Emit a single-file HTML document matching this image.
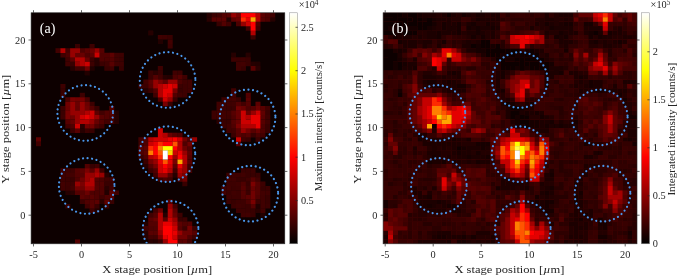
<!DOCTYPE html>
<html><head><meta charset="utf-8"><title>Stage scan intensity maps</title>
<style>html,body{margin:0;padding:0;background:#fff}svg{display:block}text{font-family:"Liberation Serif","DejaVu Serif",serif;font-size:10.3px;fill:#262626}.L{font-size:11.3px}</style>
</head><body>
<svg width="677" height="276" viewBox="0 0 677 276">
<rect width="677" height="276" fill="#fff"/>
<filter id="bl" x="-5%" y="-5%" width="110%" height="110%"><feGaussianBlur stdDeviation="0.5"/></filter>
<clipPath id="c4"><rect x="31.1" y="12.8" width="253.7" height="231.0"/></clipPath>
<g clip-path="url(#c4)"><g filter="url(#bl)"><rect x="27.1" y="8.8" width="261.7" height="239.0" fill="#0e0000"/>
<path fill="#220000" d="M226.3 17.2h5.0v4.6h-5.0zM255.5 61.7h5.0v4.6h-5.0zM114.0 110.6h5.0v4.6h-5.0zM143.3 221.6h5.0v4.6h-5.0z"/>
<path fill="#230000" d="M157.9 39.5h5.0v4.6h-5.0zM89.6 66.1h5.0v4.6h-5.0zM84.8 70.6h5.0v4.6h-5.0zM167.7 75.0h5.0v4.6h-5.0zM104.3 190.5h5.0v4.6h-5.0zM255.5 203.9h5.0v4.6h-5.0zM94.5 208.3h5.0v4.6h-5.0zM260.4 212.7h5.0v4.6h-5.0z"/>
<path fill="#250000" d="M270.2 17.2h5.0v4.6h-5.0zM231.1 52.8h5.0v4.6h-5.0zM245.8 52.8h5.0v4.6h-5.0zM104.3 172.8h5.0v4.6h-5.0zM143.3 230.5h5.0v4.6h-5.0z"/>
<path fill="#260000" d="M94.5 57.2h5.0v4.6h-5.0zM94.5 61.7h5.0v4.6h-5.0zM162.8 75.0h5.0v4.6h-5.0zM143.3 88.3h5.0v4.6h-5.0zM114.0 115.0h5.0v4.6h-5.0zM143.3 163.9h5.0v4.6h-5.0zM65.3 190.5h5.0v4.6h-5.0zM143.3 235.0h5.0v4.6h-5.0zM153.1 239.4h5.0v4.6h-5.0z"/>
<path fill="#270000" d="M206.7 12.8h5.0v4.6h-5.0zM148.2 30.6h5.0v4.6h-5.0zM250.6 61.7h5.0v4.6h-5.0zM70.1 66.1h5.0v4.6h-5.0zM114.0 119.4h5.0v4.6h-5.0zM79.9 128.3h5.0v4.6h-5.0zM172.6 172.8h5.0v4.6h-5.0zM162.8 212.7h5.0v4.6h-5.0z"/>
<path fill="#290000" d="M206.7 17.2h5.0v4.6h-5.0zM255.5 66.1h5.0v4.6h-5.0zM153.1 70.6h5.0v4.6h-5.0zM216.5 119.4h5.0v4.6h-5.0zM79.9 123.9h5.0v4.6h-5.0zM104.3 186.1h5.0v4.6h-5.0zM70.1 190.5h5.0v4.6h-5.0zM99.4 199.4h5.0v4.6h-5.0zM255.5 208.3h5.0v4.6h-5.0zM148.2 239.4h5.0v4.6h-5.0z"/>
<path fill="#380000" d="M216.5 21.7h5.0v4.6h-5.0zM167.7 35.0h5.0v4.6h-5.0zM75.0 43.9h5.0v4.6h-5.0zM245.8 57.2h5.0v4.6h-5.0zM245.8 61.7h5.0v4.6h-5.0zM104.3 66.1h5.0v4.6h-5.0zM118.9 66.1h5.0v4.6h-5.0zM148.2 70.6h5.0v4.6h-5.0zM148.2 75.0h5.0v4.6h-5.0zM60.4 88.3h5.0v4.6h-5.0zM221.4 101.7h5.0v4.6h-5.0zM94.5 106.1h5.0v4.6h-5.0zM265.3 110.6h5.0v4.6h-5.0zM221.4 119.4h5.0v4.6h-5.0zM265.3 123.9h5.0v4.6h-5.0zM265.3 128.3h5.0v4.6h-5.0zM245.8 137.2h5.0v4.6h-5.0zM138.4 155.0h5.0v4.6h-5.0zM89.6 163.9h5.0v4.6h-5.0zM240.9 168.3h5.0v4.6h-5.0zM250.6 172.8h5.0v4.6h-5.0zM70.1 177.2h5.0v4.6h-5.0zM104.3 181.6h9.9v4.6h-9.9zM226.3 190.5h5.0v4.6h-5.0zM109.2 199.4h5.0v4.6h-5.0zM231.1 199.4h5.0v4.6h-5.0zM94.5 203.9h5.0v4.6h-5.0zM104.3 203.9h5.0v4.6h-5.0zM177.5 217.2h5.0v4.6h-5.0zM192.1 226.1h5.0v4.6h-5.0zM157.9 239.4h5.0v4.6h-5.0z"/>
<path fill="#390000" d="M70.1 61.7h5.0v4.6h-5.0zM240.9 66.1h5.0v4.6h-5.0zM157.9 70.6h5.0v4.6h-5.0zM148.2 88.3h5.0v4.6h-5.0zM177.5 88.3h5.0v4.6h-5.0zM172.6 97.2h5.0v4.6h-5.0zM236.0 97.2h5.0v4.6h-5.0zM167.7 101.7h5.0v4.6h-5.0zM226.3 106.1h5.0v4.6h-5.0zM226.3 119.4h5.0v4.6h-5.0zM89.6 128.3h5.0v4.6h-5.0zM250.6 132.8h5.0v4.6h-5.0zM143.3 159.4h5.0v4.6h-5.0zM245.8 168.3h5.0v4.6h-5.0zM245.8 172.8h5.0v4.6h-5.0zM255.5 172.8h5.0v4.6h-5.0zM236.0 177.2h9.9v4.6h-9.9zM182.3 181.6h5.0v4.6h-5.0zM245.8 181.6h5.0v4.6h-5.0zM260.4 186.1h5.0v4.6h-5.0zM265.3 195.0h5.0v4.6h-5.0zM265.3 199.4h5.0v4.6h-5.0zM65.3 203.9h5.0v4.6h-5.0zM250.6 208.3h5.0v4.6h-5.0zM250.6 212.7h5.0v4.6h-5.0z"/>
<path fill="#3a0000" d="M211.6 12.8h5.0v4.6h-5.0zM89.6 57.2h5.0v4.6h-5.0zM118.9 57.2h5.0v4.6h-5.0zM236.0 57.2h5.0v4.6h-5.0zM99.4 61.7h5.0v4.6h-5.0zM138.4 83.9h9.9v4.6h-9.9zM177.5 83.9h5.0v4.6h-5.0zM60.4 92.8h5.0v4.6h-5.0zM221.4 97.2h5.0v4.6h-5.0zM221.4 106.1h5.0v4.6h-5.0zM231.1 106.1h5.0v4.6h-5.0zM60.4 110.6h5.0v4.6h-5.0zM221.4 123.9h5.0v4.6h-5.0zM70.1 128.3h5.0v4.6h-5.0zM84.8 128.3h5.0v4.6h-5.0zM231.1 132.8h5.0v4.6h-5.0zM255.5 137.2h5.0v4.6h-5.0zM65.3 168.3h5.0v4.6h-5.0zM148.2 168.3h5.0v4.6h-5.0zM250.6 168.3h5.0v4.6h-5.0zM226.3 172.8h5.0v4.6h-5.0zM65.3 177.2h5.0v4.6h-5.0zM65.3 186.1h5.0v4.6h-5.0zM231.1 186.1h5.0v4.6h-5.0zM265.3 186.1h5.0v4.6h-5.0zM245.8 190.5h5.0v4.6h-5.0zM79.9 199.4h5.0v4.6h-5.0zM231.1 203.9h5.0v4.6h-5.0zM245.8 203.9h5.0v4.6h-5.0zM265.3 203.9h5.0v4.6h-5.0zM245.8 208.3h5.0v4.6h-5.0zM182.3 217.2h5.0v4.6h-5.0zM182.3 226.1h5.0v4.6h-5.0zM192.1 235.0h5.0v4.6h-5.0z"/>
<path fill="#3c0000" d="M250.6 35.0h5.0v4.6h-5.0zM167.7 43.9h5.0v4.6h-5.0zM118.9 52.8h5.0v4.6h-5.0zM240.9 57.2h5.0v4.6h-5.0zM177.5 70.6h5.0v4.6h-5.0zM60.4 83.9h5.0v4.6h-5.0zM182.3 83.9h5.0v4.6h-5.0zM182.3 88.3h5.0v4.6h-5.0zM182.3 92.8h5.0v4.6h-5.0zM226.3 101.7h5.0v4.6h-5.0zM211.6 110.6h5.0v4.6h-5.0zM60.4 115.0h5.0v4.6h-5.0zM265.3 115.0h5.0v4.6h-5.0zM60.4 168.3h5.0v4.6h-5.0zM231.1 172.8h9.9v4.6h-9.9zM157.9 177.2h5.0v4.6h-5.0zM65.3 181.6h5.0v4.6h-5.0zM226.3 181.6h9.9v4.6h-9.9zM245.8 186.1h5.0v4.6h-5.0zM236.0 190.5h5.0v4.6h-5.0zM226.3 195.0h5.0v4.6h-5.0zM236.0 199.4h5.0v4.6h-5.0zM255.5 199.4h5.0v4.6h-5.0zM240.9 208.3h5.0v4.6h-5.0zM177.5 212.7h5.0v4.6h-5.0z"/>
<path fill="#3d0000" d="M162.8 35.0h5.0v4.6h-5.0zM89.6 43.9h5.0v4.6h-5.0zM231.1 57.2h5.0v4.6h-5.0zM89.6 61.7h5.0v4.6h-5.0zM118.9 61.7h5.0v4.6h-5.0zM157.9 66.1h5.0v4.6h-5.0zM79.9 92.8h5.0v4.6h-5.0zM89.6 101.7h5.0v4.6h-5.0zM60.4 106.1h5.0v4.6h-5.0zM211.6 115.0h5.0v4.6h-5.0zM226.3 115.0h5.0v4.6h-5.0zM187.2 163.9h5.0v4.6h-5.0zM70.1 168.3h5.0v4.6h-5.0zM99.4 168.3h5.0v4.6h-5.0zM60.4 172.8h5.0v4.6h-5.0zM60.4 177.2h5.0v4.6h-5.0zM70.1 181.6h5.0v4.6h-5.0zM260.4 181.6h5.0v4.6h-5.0zM221.4 186.1h5.0v4.6h-5.0zM236.0 186.1h5.0v4.6h-5.0zM114.0 190.5h5.0v4.6h-5.0zM231.1 195.0h9.9v4.6h-9.9zM226.3 199.4h5.0v4.6h-5.0zM240.9 199.4h5.0v4.6h-5.0zM240.9 203.9h5.0v4.6h-5.0zM89.6 208.3h5.0v4.6h-5.0zM236.0 208.3h5.0v4.6h-5.0z"/>
<path fill="#3f0000" d="M216.5 12.8h5.0v4.6h-5.0zM114.0 52.8h5.0v4.6h-5.0zM236.0 66.1h5.0v4.6h-5.0zM157.9 75.0h5.0v4.6h-5.0zM143.3 79.4h5.0v4.6h-5.0zM187.2 79.4h5.0v4.6h-5.0zM187.2 83.9h5.0v4.6h-5.0zM231.1 88.3h5.0v4.6h-5.0zM226.3 97.2h5.0v4.6h-5.0zM216.5 106.1h5.0v4.6h-5.0zM265.3 106.1h5.0v4.6h-5.0zM226.3 110.6h5.0v4.6h-5.0zM226.3 123.9h5.0v4.6h-5.0zM226.3 128.3h5.0v4.6h-5.0zM36.0 141.7h5.0v4.6h-5.0zM138.4 141.7h5.0v4.6h-5.0zM172.6 168.3h5.0v4.6h-5.0zM187.2 168.3h5.0v4.6h-5.0zM153.1 172.8h5.0v4.6h-5.0zM104.3 177.2h5.0v4.6h-5.0zM226.3 177.2h5.0v4.6h-5.0zM236.0 181.6h5.0v4.6h-5.0zM99.4 195.0h5.0v4.6h-5.0zM260.4 195.0h5.0v4.6h-5.0zM260.4 199.4h5.0v4.6h-5.0z"/>
<path fill="#400000" d="M270.2 12.8h5.0v4.6h-5.0zM245.8 26.1h5.0v4.6h-5.0zM255.5 26.1h5.0v4.6h-5.0zM157.9 35.0h5.0v4.6h-5.0zM60.4 52.8h5.0v4.6h-5.0zM65.3 57.2h5.0v4.6h-5.0zM114.0 57.2h5.0v4.6h-5.0zM75.0 66.1h5.0v4.6h-5.0zM109.2 66.1h5.0v4.6h-5.0zM182.3 79.4h5.0v4.6h-5.0zM177.5 92.8h5.0v4.6h-5.0zM231.1 92.8h5.0v4.6h-5.0zM216.5 101.7h5.0v4.6h-5.0zM231.1 101.7h5.0v4.6h-5.0zM240.9 137.2h5.0v4.6h-5.0zM240.9 172.8h5.0v4.6h-5.0zM60.4 186.1h5.0v4.6h-5.0zM231.1 190.5h5.0v4.6h-5.0zM172.6 203.9h5.0v4.6h-5.0zM236.0 203.9h5.0v4.6h-5.0zM153.1 208.3h5.0v4.6h-5.0zM260.4 208.3h5.0v4.6h-5.0zM153.1 235.0h5.0v4.6h-5.0z"/>
<path fill="#410000" d="M226.3 21.7h5.0v4.6h-5.0zM65.3 61.7h5.0v4.6h-5.0zM104.3 61.7h5.0v4.6h-5.0zM114.0 61.7h5.0v4.6h-5.0zM236.0 61.7h5.0v4.6h-5.0zM79.9 66.1h5.0v4.6h-5.0zM172.6 70.6h5.0v4.6h-5.0zM182.3 75.0h5.0v4.6h-5.0zM187.2 88.3h5.0v4.6h-5.0zM153.1 92.8h5.0v4.6h-5.0zM221.4 110.6h5.0v4.6h-5.0zM216.5 115.0h9.9v4.6h-9.9zM265.3 119.4h5.0v4.6h-5.0zM99.4 123.9h5.0v4.6h-5.0zM94.5 163.9h5.0v4.6h-5.0zM167.7 177.2h5.0v4.6h-5.0zM231.1 177.2h5.0v4.6h-5.0zM245.8 177.2h5.0v4.6h-5.0zM109.2 186.1h5.0v4.6h-5.0zM226.3 186.1h5.0v4.6h-5.0zM265.3 190.5h5.0v4.6h-5.0zM84.8 203.9h5.0v4.6h-5.0zM260.4 203.9h5.0v4.6h-5.0zM148.2 212.7h5.0v4.6h-5.0zM240.9 212.7h5.0v4.6h-5.0z"/>
<path fill="#430000" d="M167.7 39.5h5.0v4.6h-5.0zM55.5 48.3h5.0v4.6h-5.0zM65.3 48.3h5.0v4.6h-5.0zM240.9 61.7h5.0v4.6h-5.0zM231.1 97.2h5.0v4.6h-5.0zM240.9 101.7h5.0v4.6h-5.0zM99.4 110.6h5.0v4.6h-5.0zM216.5 110.6h5.0v4.6h-5.0zM104.3 119.4h9.9v4.6h-9.9zM65.3 123.9h5.0v4.6h-5.0zM231.1 128.3h5.0v4.6h-5.0zM260.4 132.8h5.0v4.6h-5.0zM138.4 137.2h5.0v4.6h-5.0zM65.3 172.8h9.9v4.6h-9.9zM109.2 177.2h5.0v4.6h-5.0zM255.5 177.2h5.0v4.6h-5.0zM60.4 181.6h5.0v4.6h-5.0zM70.1 186.1h5.0v4.6h-5.0zM221.4 190.5h5.0v4.6h-5.0zM260.4 190.5h5.0v4.6h-5.0zM245.8 212.7h5.0v4.6h-5.0zM143.3 226.1h5.0v4.6h-5.0zM148.2 235.0h5.0v4.6h-5.0zM187.2 239.4h5.0v4.6h-5.0z"/>
<path fill="#4c0000" d="M236.0 21.7h5.0v4.6h-5.0zM65.3 97.2h5.0v4.6h-5.0zM84.8 97.2h5.0v4.6h-5.0zM255.5 132.8h5.0v4.6h-5.0zM162.8 177.2h5.0v4.6h-5.0z"/>
<path fill="#4e0000" d="M265.3 17.2h5.0v4.6h-5.0zM255.5 21.7h5.0v4.6h-5.0zM79.9 48.3h5.0v4.6h-5.0zM65.3 52.8h5.0v4.6h-5.0zM104.3 57.2h5.0v4.6h-5.0zM172.6 75.0h5.0v4.6h-5.0zM177.5 79.4h5.0v4.6h-5.0zM245.8 106.1h5.0v4.6h-5.0zM109.2 115.0h5.0v4.6h-5.0zM94.5 123.9h5.0v4.6h-5.0zM260.4 123.9h5.0v4.6h-5.0zM177.5 132.8h5.0v4.6h-5.0zM240.9 132.8h5.0v4.6h-5.0zM187.2 137.2h5.0v4.6h-5.0zM138.4 150.5h5.0v4.6h-5.0zM143.3 155.0h5.0v4.6h-5.0zM99.4 177.2h5.0v4.6h-5.0zM94.5 190.5h5.0v4.6h-5.0zM104.3 195.0h5.0v4.6h-5.0zM245.8 199.4h5.0v4.6h-5.0zM148.2 226.1h5.0v4.6h-5.0z"/>
<path fill="#4f0000" d="M84.8 52.8h5.0v4.6h-5.0zM157.9 97.2h5.0v4.6h-5.0zM231.1 115.0h5.0v4.6h-5.0zM70.1 123.9h5.0v4.6h-5.0zM260.4 128.3h5.0v4.6h-5.0zM143.3 137.2h5.0v4.6h-5.0zM143.3 141.7h5.0v4.6h-5.0zM182.3 141.7h5.0v4.6h-5.0zM153.1 168.3h5.0v4.6h-5.0zM75.0 177.2h5.0v4.6h-5.0zM240.9 181.6h5.0v4.6h-5.0zM94.5 195.0h5.0v4.6h-5.0zM255.5 195.0h5.0v4.6h-5.0zM84.8 199.4h5.0v4.6h-5.0zM182.3 221.6h5.0v4.6h-5.0z"/>
<path fill="#500000" d="M265.3 12.8h5.0v4.6h-5.0zM99.4 52.8h9.9v4.6h-9.9zM99.4 57.2h5.0v4.6h-5.0zM109.2 106.1h5.0v4.6h-5.0zM231.1 123.9h5.0v4.6h-5.0zM177.5 177.2h5.0v4.6h-5.0zM99.4 186.1h5.0v4.6h-5.0zM89.6 190.5h5.0v4.6h-5.0zM99.4 190.5h5.0v4.6h-5.0zM153.1 226.1h5.0v4.6h-5.0zM187.2 235.0h5.0v4.6h-5.0z"/>
<path fill="#520000" d="M221.4 12.8h5.0v4.6h-5.0zM221.4 21.7h5.0v4.6h-5.0zM153.1 88.3h5.0v4.6h-5.0zM172.6 92.8h5.0v4.6h-5.0zM245.8 92.8h5.0v4.6h-5.0zM104.3 115.0h5.0v4.6h-5.0zM99.4 119.4h5.0v4.6h-5.0zM148.2 163.9h5.0v4.6h-5.0zM99.4 181.6h5.0v4.6h-5.0zM75.0 190.5h5.0v4.6h-5.0zM240.9 195.0h5.0v4.6h-5.0zM153.1 212.7h5.0v4.6h-5.0zM148.2 221.6h9.9v4.6h-9.9zM192.1 230.5h5.0v4.6h-5.0z"/>
<path fill="#530000" d="M109.2 57.2h5.0v4.6h-5.0zM153.1 75.0h5.0v4.6h-5.0zM250.6 106.1h5.0v4.6h-5.0zM104.3 110.6h5.0v4.6h-5.0zM187.2 146.1h5.0v4.6h-5.0zM187.2 155.0h5.0v4.6h-5.0zM84.8 163.9h5.0v4.6h-5.0zM75.0 172.8h5.0v4.6h-5.0zM94.5 181.6h5.0v4.6h-5.0zM84.8 195.0h5.0v4.6h-5.0zM75.0 239.4h5.0v4.6h-5.0z"/>
<path fill="#540000" d="M226.3 12.8h5.0v4.6h-5.0zM99.4 48.3h5.0v4.6h-5.0zM236.0 101.7h5.0v4.6h-5.0zM109.2 110.6h5.0v4.6h-5.0zM236.0 141.7h5.0v4.6h-5.0zM187.2 159.4h5.0v4.6h-5.0zM75.0 168.3h5.0v4.6h-5.0zM79.9 172.8h5.0v4.6h-5.0zM94.5 177.2h5.0v4.6h-5.0zM255.5 186.1h5.0v4.6h-5.0zM240.9 190.5h5.0v4.6h-5.0zM255.5 190.5h5.0v4.6h-5.0zM187.2 221.6h5.0v4.6h-5.0zM177.5 226.1h5.0v4.6h-5.0z"/>
<path fill="#560000" d="M177.5 75.0h5.0v4.6h-5.0zM148.2 83.9h5.0v4.6h-5.0zM245.8 101.7h5.0v4.6h-5.0zM260.4 119.4h5.0v4.6h-5.0zM138.4 146.1h5.0v4.6h-5.0zM255.5 181.6h5.0v4.6h-5.0zM94.5 186.1h5.0v4.6h-5.0zM240.9 186.1h5.0v4.6h-5.0zM109.2 195.0h5.0v4.6h-5.0zM167.7 199.4h5.0v4.6h-5.0zM250.6 203.9h5.0v4.6h-5.0zM153.1 230.5h5.0v4.6h-5.0z"/>
<path fill="#570000" d="M260.4 17.2h5.0v4.6h-5.0zM89.6 106.1h5.0v4.6h-5.0zM231.1 110.6h5.0v4.6h-5.0zM65.3 119.4h5.0v4.6h-5.0zM231.1 119.4h5.0v4.6h-5.0zM250.6 128.3h5.0v4.6h-5.0zM172.6 132.8h5.0v4.6h-5.0zM245.8 132.8h5.0v4.6h-5.0zM250.6 177.2h5.0v4.6h-5.0zM79.9 190.5h5.0v4.6h-5.0zM89.6 199.4h5.0v4.6h-5.0zM89.6 203.9h5.0v4.6h-5.0z"/>
<path fill="#580000" d="M211.6 17.2h5.0v4.6h-5.0zM109.2 61.7h5.0v4.6h-5.0zM260.4 106.1h5.0v4.6h-5.0zM260.4 115.0h5.0v4.6h-5.0zM75.0 128.3h5.0v4.6h-5.0zM236.0 132.8h5.0v4.6h-5.0zM148.2 217.2h5.0v4.6h-5.0zM162.8 217.2h5.0v4.6h-5.0zM148.2 230.5h5.0v4.6h-5.0zM177.5 239.4h5.0v4.6h-5.0z"/>
<path fill="#5a0000" d="M216.5 17.2h5.0v4.6h-5.0zM250.6 66.1h5.0v4.6h-5.0zM162.8 79.4h5.0v4.6h-5.0zM99.4 115.0h5.0v4.6h-5.0zM236.0 128.3h5.0v4.6h-5.0zM172.6 163.9h5.0v4.6h-5.0zM167.7 172.8h5.0v4.6h-5.0zM109.2 190.5h5.0v4.6h-5.0zM89.6 195.0h5.0v4.6h-5.0z"/>
<path fill="#5b0000" d="M231.1 17.2h5.0v4.6h-5.0zM245.8 97.2h5.0v4.6h-5.0zM255.5 101.7h5.0v4.6h-5.0zM143.3 146.1h5.0v4.6h-5.0zM79.9 168.3h5.0v4.6h-5.0zM89.6 168.3h5.0v4.6h-5.0zM245.8 195.0h5.0v4.6h-5.0zM172.6 208.3h5.0v4.6h-5.0z"/>
<path fill="#5c0000" d="M260.4 12.8h5.0v4.6h-5.0zM221.4 17.2h5.0v4.6h-5.0zM84.8 48.3h5.0v4.6h-5.0zM89.6 52.8h5.0v4.6h-5.0zM109.2 52.8h5.0v4.6h-5.0zM70.1 57.2h5.0v4.6h-5.0zM148.2 79.4h5.0v4.6h-5.0zM94.5 110.6h5.0v4.6h-5.0zM143.3 150.5h5.0v4.6h-5.0zM187.2 150.5h5.0v4.6h-5.0zM79.9 195.0h5.0v4.6h-5.0zM94.5 199.4h5.0v4.6h-5.0zM104.3 199.4h5.0v4.6h-5.0zM177.5 221.6h5.0v4.6h-5.0zM182.3 239.4h5.0v4.6h-5.0z"/>
<path fill="#5e0000" d="M260.4 110.6h5.0v4.6h-5.0zM36.0 137.2h5.0v4.6h-5.0z"/>
<path fill="#660000" d="M75.0 52.8h5.0v4.6h-5.0zM75.0 106.1h5.0v4.6h-5.0zM245.8 110.6h5.0v4.6h-5.0zM70.1 119.4h5.0v4.6h-5.0zM94.5 119.4h5.0v4.6h-5.0z"/>
<path fill="#670000" d="M79.9 52.8h5.0v4.6h-5.0zM236.0 119.4h5.0v4.6h-5.0zM250.6 186.1h5.0v4.6h-5.0zM172.6 212.7h5.0v4.6h-5.0zM153.1 217.2h5.0v4.6h-5.0z"/>
<path fill="#690000" d="M75.0 101.7h5.0v4.6h-5.0zM255.5 128.3h5.0v4.6h-5.0z"/>
<path fill="#6a0000" d="M84.8 57.2h5.0v4.6h-5.0zM240.9 106.1h5.0v4.6h-5.0zM236.0 115.0h5.0v4.6h-5.0zM182.3 146.1h5.0v4.6h-5.0zM182.3 230.5h9.9v4.6h-9.9z"/>
<path fill="#6b0000" d="M236.0 17.2h5.0v4.6h-5.0zM89.6 48.3h5.0v4.6h-5.0zM84.8 101.7h5.0v4.6h-5.0zM236.0 110.6h5.0v4.6h-5.0zM167.7 132.8h5.0v4.6h-5.0zM84.8 190.5h5.0v4.6h-5.0z"/>
<path fill="#6d0000" d="M65.3 106.1h5.0v4.6h-5.0zM255.5 106.1h5.0v4.6h-5.0zM79.9 177.2h5.0v4.6h-5.0zM182.3 177.2h5.0v4.6h-5.0z"/>
<path fill="#6e0000" d="M84.8 66.1h5.0v4.6h-5.0zM182.3 137.2h5.0v4.6h-5.0zM79.9 186.1h5.0v4.6h-5.0zM157.9 208.3h5.0v4.6h-5.0z"/>
<path fill="#700000" d="M84.8 106.1h5.0v4.6h-5.0zM70.1 115.0h5.0v4.6h-5.0zM75.0 186.1h5.0v4.6h-5.0zM250.6 190.5h5.0v4.6h-5.0zM250.6 195.0h5.0v4.6h-5.0zM177.5 235.0h9.9v4.6h-9.9z"/>
<path fill="#710000" d="M65.3 101.7h5.0v4.6h-5.0zM187.2 141.7h5.0v4.6h-5.0z"/>
<path fill="#720000" d="M75.0 97.2h5.0v4.6h-5.0zM84.8 123.9h5.0v4.6h-5.0zM245.8 128.3h5.0v4.6h-5.0z"/>
<path fill="#740000" d="M236.0 12.8h5.0v4.6h-5.0zM79.9 97.2h5.0v4.6h-5.0zM148.2 159.4h5.0v4.6h-5.0zM153.1 163.9h5.0v4.6h-5.0zM157.9 235.0h5.0v4.6h-5.0z"/>
<path fill="#750000" d="M172.6 88.3h5.0v4.6h-5.0zM89.6 123.9h5.0v4.6h-5.0zM187.2 226.1h5.0v4.6h-5.0z"/>
<path fill="#760000" d="M236.0 106.1h5.0v4.6h-5.0z"/>
<path fill="#780000" d="M157.9 79.4h5.0v4.6h-5.0zM162.8 101.7h5.0v4.6h-5.0z"/>
<path fill="#790000" d="M70.1 97.2h5.0v4.6h-5.0zM65.3 110.6h5.0v4.6h-5.0zM172.6 159.4h5.0v4.6h-5.0zM84.8 168.3h5.0v4.6h-5.0zM182.3 172.8h5.0v4.6h-5.0zM250.6 199.4h5.0v4.6h-5.0z"/>
<path fill="#7a0000" d="M65.3 115.0h5.0v4.6h-5.0zM236.0 123.9h5.0v4.6h-5.0zM79.9 181.6h5.0v4.6h-5.0z"/>
<path fill="#7c0000" d="M250.6 181.6h5.0v4.6h-5.0z"/>
<path fill="#960000" d="M231.1 12.8h5.0v4.6h-5.0zM240.9 21.7h5.0v4.6h-5.0zM70.1 48.3h9.9v4.6h-9.9zM94.5 48.3h5.0v4.6h-5.0zM70.1 52.8h5.0v4.6h-5.0zM75.0 61.7h5.0v4.6h-5.0zM153.1 79.4h5.0v4.6h-5.0zM167.7 79.4h9.9v4.6h-9.9zM153.1 83.9h5.0v4.6h-5.0zM167.7 97.2h5.0v4.6h-5.0zM70.1 101.7h5.0v4.6h-5.0zM79.9 101.7h5.0v4.6h-5.0zM70.1 106.1h5.0v4.6h-5.0zM79.9 106.1h5.0v4.6h-5.0zM70.1 110.6h14.8v4.6h-14.8zM250.6 110.6h5.0v4.6h-5.0zM75.0 115.0h5.0v4.6h-5.0zM94.5 115.0h5.0v4.6h-5.0zM75.0 119.4h5.0v4.6h-5.0zM89.6 119.4h5.0v4.6h-5.0zM240.9 128.3h5.0v4.6h-5.0zM192.1 137.2h5.0v4.6h-5.0zM182.3 150.5h5.0v4.6h-5.0zM172.6 155.0h5.0v4.6h-5.0zM153.1 159.4h5.0v4.6h-5.0zM182.3 163.9h5.0v4.6h-5.0zM94.5 168.3h5.0v4.6h-5.0zM182.3 168.3h5.0v4.6h-5.0zM84.8 172.8h9.9v4.6h-9.9zM99.4 172.8h5.0v4.6h-5.0zM157.9 172.8h9.9v4.6h-9.9zM177.5 172.8h5.0v4.6h-5.0zM84.8 177.2h5.0v4.6h-5.0zM75.0 181.6h5.0v4.6h-5.0zM84.8 186.1h9.9v4.6h-9.9zM167.7 203.9h5.0v4.6h-5.0zM172.6 217.2h5.0v4.6h-5.0zM157.9 230.5h5.0v4.6h-5.0zM177.5 230.5h5.0v4.6h-5.0zM162.8 239.4h5.0v4.6h-5.0z"/>
<path fill="#b10000" d="M255.5 12.8h5.0v4.6h-5.0zM255.5 17.2h5.0v4.6h-5.0zM250.6 30.6h5.0v4.6h-5.0zM60.4 48.3h5.0v4.6h-5.0zM75.0 57.2h9.9v4.6h-9.9zM79.9 61.7h5.0v4.6h-5.0zM157.9 83.9h5.0v4.6h-5.0zM157.9 88.3h5.0v4.6h-5.0zM157.9 92.8h5.0v4.6h-5.0zM84.8 110.6h5.0v4.6h-5.0zM245.8 115.0h5.0v4.6h-5.0zM79.9 119.4h9.9v4.6h-9.9zM240.9 123.9h14.8v4.6h-14.8zM162.8 132.8h5.0v4.6h-5.0zM148.2 137.2h5.0v4.6h-5.0zM177.5 141.7h5.0v4.6h-5.0zM177.5 146.1h5.0v4.6h-5.0zM148.2 155.0h5.0v4.6h-5.0zM182.3 155.0h5.0v4.6h-5.0zM182.3 159.4h5.0v4.6h-5.0zM167.7 168.3h5.0v4.6h-5.0zM177.5 168.3h5.0v4.6h-5.0zM94.5 172.8h5.0v4.6h-5.0zM89.6 177.2h5.0v4.6h-5.0zM84.8 181.6h9.9v4.6h-9.9zM167.7 208.3h5.0v4.6h-5.0zM157.9 212.7h5.0v4.6h-5.0zM167.7 212.7h5.0v4.6h-5.0zM157.9 217.2h5.0v4.6h-5.0zM157.9 221.6h5.0v4.6h-5.0zM172.6 221.6h5.0v4.6h-5.0zM157.9 226.1h5.0v4.6h-5.0z"/>
<path fill="#cc0000" d="M245.8 21.7h5.0v4.6h-5.0zM94.5 52.8h5.0v4.6h-5.0zM84.8 61.7h5.0v4.6h-5.0zM162.8 83.9h5.0v4.6h-5.0zM172.6 83.9h5.0v4.6h-5.0zM167.7 92.8h5.0v4.6h-5.0zM162.8 97.2h5.0v4.6h-5.0zM89.6 110.6h5.0v4.6h-5.0zM240.9 110.6h5.0v4.6h-5.0zM255.5 110.6h5.0v4.6h-5.0zM79.9 115.0h5.0v4.6h-5.0zM89.6 115.0h5.0v4.6h-5.0zM240.9 115.0h5.0v4.6h-5.0zM240.9 119.4h9.9v4.6h-9.9zM75.0 123.9h5.0v4.6h-5.0zM157.9 128.3h5.0v4.6h-5.0zM157.9 132.8h5.0v4.6h-5.0zM153.1 137.2h14.8v4.6h-14.8zM177.5 137.2h5.0v4.6h-5.0zM236.0 137.2h5.0v4.6h-5.0zM148.2 141.7h5.0v4.6h-5.0zM172.6 150.5h5.0v4.6h-5.0zM153.1 155.0h5.0v4.6h-5.0zM157.9 163.9h5.0v4.6h-5.0zM167.7 163.9h5.0v4.6h-5.0zM157.9 168.3h5.0v4.6h-5.0zM167.7 217.2h5.0v4.6h-5.0zM172.6 226.1h5.0v4.6h-5.0zM172.6 235.0h5.0v4.6h-5.0z"/>
<path fill="#e70000" d="M245.8 17.2h5.0v4.6h-5.0zM167.7 83.9h5.0v4.6h-5.0zM162.8 88.3h9.9v4.6h-9.9zM162.8 92.8h5.0v4.6h-5.0zM84.8 115.0h5.0v4.6h-5.0zM250.6 115.0h9.9v4.6h-9.9zM250.6 119.4h9.9v4.6h-9.9zM255.5 123.9h5.0v4.6h-5.0zM167.7 137.2h5.0v4.6h-5.0zM153.1 141.7h5.0v4.6h-5.0zM177.5 150.5h5.0v4.6h-5.0zM157.9 159.4h5.0v4.6h-5.0zM167.7 159.4h5.0v4.6h-5.0zM177.5 163.9h5.0v4.6h-5.0zM162.8 168.3h5.0v4.6h-5.0zM162.8 221.6h9.9v4.6h-9.9zM172.6 230.5h5.0v4.6h-5.0zM162.8 235.0h5.0v4.6h-5.0z"/>
<path fill="#ff0100" d="M240.9 12.8h14.8v4.6h-14.8zM250.6 21.7h5.0v4.6h-5.0zM250.6 26.1h5.0v4.6h-5.0zM172.6 137.2h5.0v4.6h-5.0zM162.8 141.7h9.9v4.6h-9.9zM153.1 146.1h5.0v4.6h-5.0zM172.6 146.1h5.0v4.6h-5.0zM153.1 150.5h5.0v4.6h-5.0zM167.7 155.0h5.0v4.6h-5.0zM177.5 155.0h5.0v4.6h-5.0zM162.8 163.9h5.0v4.6h-5.0zM162.8 226.1h9.9v4.6h-9.9zM162.8 230.5h9.9v4.6h-9.9zM167.7 235.0h5.0v4.6h-5.0zM167.7 239.4h9.9v4.6h-9.9z"/>
<path fill="#ff2c00" d="M240.9 17.2h5.0v4.6h-5.0zM157.9 141.7h5.0v4.6h-5.0zM148.2 146.1h5.0v4.6h-5.0zM157.9 155.0h5.0v4.6h-5.0z"/>
<path fill="#ff5500" d="M172.6 141.7h5.0v4.6h-5.0zM157.9 150.5h5.0v4.6h-5.0zM162.8 159.4h5.0v4.6h-5.0z"/>
<path fill="#ff7e00" d="M157.9 146.1h5.0v4.6h-5.0zM148.2 150.5h5.0v4.6h-5.0z"/>
<path fill="#ffa700" d="M250.6 17.2h5.0v4.6h-5.0zM177.5 159.4h5.0v4.6h-5.0z"/>
<path fill="#ffcf00" d="M167.7 150.5h5.0v4.6h-5.0z"/>
<path fill="#ffff00" d="M162.8 146.1h9.9v4.6h-9.9z"/>
<path fill="#ffffff" d="M162.8 150.5h5.0v4.6h-5.0zM162.8 155.0h5.0v4.6h-5.0z"/></g></g>
<g clip-path="url(#c4)"><g fill="none" stroke="#4a96ea" stroke-width="2.2" stroke-linecap="round" stroke-dasharray="0.01 4.53"><circle cx="85.2" cy="113.0" r="27.8"/><circle cx="167.6" cy="80.0" r="27.8"/><circle cx="167.4" cy="154.2" r="27.8"/><circle cx="247.6" cy="117.4" r="27.8"/><circle cx="86.7" cy="186.0" r="27.8"/><circle cx="250.3" cy="193.7" r="27.8"/><circle cx="170.6" cy="229.0" r="27.8"/></g></g>
<rect x="31.1" y="12.8" width="253.7" height="231.0" fill="none" stroke="#262626" stroke-width="0.6"/>
<path d="M33.5 243.85v2.6M33.5 12.8v-2.6M81.5 243.85v2.6M81.5 12.8v-2.6M129.5 243.85v2.6M129.5 12.8v-2.6M177.5 243.85v2.6M177.5 12.8v-2.6M225.5 243.85v2.6M225.5 12.8v-2.6M273.5 243.85v2.6M273.5 12.8v-2.6M31.1 215.2h-2.6M284.8 215.2h2.6M31.1 171.4h-2.6M284.8 171.4h2.6M31.1 127.6h-2.6M284.8 127.6h2.6M31.1 83.8h-2.6M284.8 83.8h2.6M31.1 40.0h-2.6M284.8 40.0h2.6" stroke="#262626" stroke-width="0.7" fill="none"/>
<text x="33.5" y="258.3" text-anchor="middle">-5</text>
<text x="81.5" y="258.3" text-anchor="middle">0</text>
<text x="129.5" y="258.3" text-anchor="middle">5</text>
<text x="177.5" y="258.3" text-anchor="middle">10</text>
<text x="225.5" y="258.3" text-anchor="middle">15</text>
<text x="273.5" y="258.3" text-anchor="middle">20</text>
<text x="25.3" y="218.7" text-anchor="end">0</text>
<text x="25.3" y="174.9" text-anchor="end">5</text>
<text x="25.3" y="131.1" text-anchor="end">10</text>
<text x="25.3" y="87.3" text-anchor="end">15</text>
<text x="25.3" y="43.5" text-anchor="end">20</text>
<text class="L" x="102.3" y="272.6" textLength="110" lengthAdjust="spacingAndGlyphs">X stage position [<tspan font-style="italic">µ</tspan>m]</text>
<text class="L" transform="translate(9.0 183.7) rotate(-90)" textLength="109" lengthAdjust="spacingAndGlyphs">Y stage position [<tspan font-style="italic">µ</tspan>m]</text>
<text x="39.8" y="33" style="fill:#fff;font-size:14px">(a)</text>
<linearGradient id="g4" x1="0" y1="1" x2="0" y2="0"><stop offset="0.0000" stop-color="#000000"/><stop offset="0.3750" stop-color="#ff0000"/><stop offset="0.7500" stop-color="#ffff00"/><stop offset="1.0000" stop-color="#ffffff"/></linearGradient>
<rect x="289.7" y="12.8" width="8.0" height="231.0" fill="url(#g4)" stroke="#8a8a8a" stroke-width="0.5"/>
<text x="300.9" y="204.0">0.5</text>
<text x="300.9" y="160.7">1</text>
<text x="300.9" y="117.4">1.5</text>
<text x="300.9" y="74.1">2</text>
<text x="300.9" y="30.7">2.5</text>
<path d="M297.7 200.6h-2.2M297.7 157.2h-2.2M297.7 114.0h-2.2M297.7 70.7h-2.2M297.7 27.3h-2.2" stroke="#262626" stroke-width="0.7" fill="none"/>
<text x="298.7" y="8.3">×10<tspan dy="-3.8" style="font-size:7.2px">4</tspan></text>
<text class="L" transform="translate(322.4 191.2) rotate(-90)" textLength="130" lengthAdjust="spacingAndGlyphs">Maximum intensity [counts/s]</text>
<clipPath id="c5"><rect x="383.1" y="12.8" width="253.9" height="231.0"/></clipPath>
<g clip-path="url(#c5)"><g filter="url(#bl)"><rect x="379.1" y="8.8" width="261.9" height="239.0" fill="#620000"/>
<path fill="#0c0000" d="M383.1 12.8h5.0v4.6h-5.0zM446.6 12.8h5.0v4.6h-5.0zM397.7 17.2h9.9v4.6h-9.9zM402.6 21.7h5.0v4.6h-5.0zM417.3 21.7h5.0v4.6h-5.0zM402.6 26.1h5.0v4.6h-5.0zM388.0 30.6h5.0v4.6h-5.0zM412.4 30.6h5.0v4.6h-5.0zM593.1 30.6h5.0v4.6h-5.0zM480.8 39.5h5.0v4.6h-5.0zM485.6 48.3h5.0v4.6h-5.0zM529.6 48.3h5.0v4.6h-5.0zM383.1 52.8h5.0v4.6h-5.0zM392.9 52.8h5.0v4.6h-5.0zM505.2 52.8h5.0v4.6h-5.0zM519.8 52.8h5.0v4.6h-5.0zM392.9 57.2h5.0v4.6h-5.0zM495.4 57.2h9.9v4.6h-9.9zM514.9 57.2h5.0v4.6h-5.0zM524.7 57.2h14.8v4.6h-14.8zM500.3 61.7h14.8v4.6h-14.8zM544.2 61.7h5.0v4.6h-5.0zM397.7 66.1h5.0v4.6h-5.0zM519.8 66.1h5.0v4.6h-5.0zM534.5 66.1h5.0v4.6h-5.0zM544.2 66.1h5.0v4.6h-5.0zM397.7 92.8h5.0v4.6h-5.0zM519.8 106.1h5.0v4.6h-5.0zM519.8 119.4h9.9v4.6h-9.9z"/>
<path fill="#0e0000" d="M397.7 26.1h5.0v4.6h-5.0zM480.8 43.9h5.0v4.6h-5.0zM495.4 43.9h5.0v4.6h-5.0zM490.5 48.3h14.8v4.6h-14.8zM510.1 48.3h5.0v4.6h-5.0zM388.0 52.8h5.0v4.6h-5.0zM534.5 52.8h5.0v4.6h-5.0zM388.0 57.2h5.0v4.6h-5.0zM539.3 57.2h5.0v4.6h-5.0zM388.0 61.7h5.0v4.6h-5.0zM524.7 61.7h5.0v4.6h-5.0zM388.0 66.1h5.0v4.6h-5.0zM505.2 66.1h5.0v4.6h-5.0zM514.9 106.1h5.0v4.6h-5.0zM519.8 115.0h5.0v4.6h-5.0z"/>
<path fill="#0f0000" d="M392.9 12.8h5.0v4.6h-5.0zM407.5 12.8h9.9v4.6h-9.9zM388.0 17.2h9.9v4.6h-9.9zM412.4 17.2h5.0v4.6h-5.0zM383.1 21.7h5.0v4.6h-5.0zM407.5 21.7h9.9v4.6h-9.9zM422.2 21.7h5.0v4.6h-5.0zM383.1 26.1h5.0v4.6h-5.0zM417.3 26.1h5.0v4.6h-5.0zM402.6 30.6h9.9v4.6h-9.9zM471.0 43.9h5.0v4.6h-5.0zM383.1 48.3h9.9v4.6h-9.9zM505.2 48.3h5.0v4.6h-5.0zM514.9 48.3h5.0v4.6h-5.0zM485.6 52.8h5.0v4.6h-5.0zM495.4 52.8h5.0v4.6h-5.0zM524.7 52.8h5.0v4.6h-5.0zM397.7 61.7h5.0v4.6h-5.0zM514.9 61.7h5.0v4.6h-5.0zM529.6 61.7h9.9v4.6h-9.9zM510.1 66.1h5.0v4.6h-5.0zM529.6 66.1h5.0v4.6h-5.0zM505.2 101.7h5.0v4.6h-5.0zM510.1 110.6h5.0v4.6h-5.0zM510.1 115.0h5.0v4.6h-5.0zM524.7 123.9h5.0v4.6h-5.0zM456.3 146.1h5.0v4.6h-5.0z"/>
<path fill="#100000" d="M388.0 12.8h5.0v4.6h-5.0zM397.7 12.8h5.0v4.6h-5.0zM383.1 17.2h5.0v4.6h-5.0zM407.5 17.2h5.0v4.6h-5.0zM417.3 17.2h5.0v4.6h-5.0zM427.0 17.2h5.0v4.6h-5.0zM388.0 21.7h5.0v4.6h-5.0zM397.7 21.7h5.0v4.6h-5.0zM427.0 21.7h5.0v4.6h-5.0zM422.2 26.1h5.0v4.6h-5.0zM383.1 30.6h5.0v4.6h-5.0zM485.6 39.5h5.0v4.6h-5.0zM485.6 43.9h5.0v4.6h-5.0zM490.5 52.8h5.0v4.6h-5.0zM510.1 52.8h5.0v4.6h-5.0zM529.6 52.8h5.0v4.6h-5.0zM383.1 57.2h5.0v4.6h-5.0zM519.8 57.2h5.0v4.6h-5.0zM383.1 61.7h5.0v4.6h-5.0zM519.8 61.7h5.0v4.6h-5.0zM383.1 66.1h5.0v4.6h-5.0zM500.3 66.1h5.0v4.6h-5.0zM539.3 66.1h5.0v4.6h-5.0zM510.1 106.1h5.0v4.6h-5.0zM514.9 110.6h5.0v4.6h-5.0zM524.7 115.0h5.0v4.6h-5.0z"/>
<path fill="#120000" d="M402.6 12.8h5.0v4.6h-5.0zM422.2 17.2h5.0v4.6h-5.0zM392.9 21.7h5.0v4.6h-5.0zM431.9 21.7h5.0v4.6h-5.0zM388.0 26.1h9.9v4.6h-9.9zM407.5 26.1h9.9v4.6h-9.9zM427.0 26.1h5.0v4.6h-5.0zM392.9 30.6h9.9v4.6h-9.9zM588.2 30.6h5.0v4.6h-5.0zM475.9 43.9h5.0v4.6h-5.0zM490.5 43.9h5.0v4.6h-5.0zM475.9 48.3h9.9v4.6h-9.9zM524.7 48.3h5.0v4.6h-5.0zM500.3 52.8h5.0v4.6h-5.0zM514.9 52.8h5.0v4.6h-5.0zM397.7 57.2h5.0v4.6h-5.0zM505.2 57.2h9.9v4.6h-9.9zM392.9 61.7h5.0v4.6h-5.0zM539.3 61.7h5.0v4.6h-5.0zM392.9 66.1h5.0v4.6h-5.0zM514.9 66.1h5.0v4.6h-5.0zM524.7 66.1h5.0v4.6h-5.0zM514.9 115.0h5.0v4.6h-5.0zM514.9 119.4h5.0v4.6h-5.0zM529.6 119.4h5.0v4.6h-5.0zM431.9 123.9h5.0v4.6h-5.0zM529.6 123.9h5.0v4.6h-5.0z"/>
<path fill="#160000" d="M588.2 21.7h5.0v4.6h-5.0zM588.2 35.0h5.0v4.6h-5.0zM451.5 70.6h5.0v4.6h-5.0zM534.5 123.9h5.0v4.6h-5.0zM431.9 155.0h5.0v4.6h-5.0zM427.0 159.4h5.0v4.6h-5.0zM427.0 195.0h5.0v4.6h-5.0zM446.6 203.9h5.0v4.6h-5.0zM544.2 208.3h9.9v4.6h-9.9zM578.4 217.2h5.0v4.6h-5.0z"/>
<path fill="#170000" d="M417.3 12.8h5.0v4.6h-5.0zM475.9 12.8h5.0v4.6h-5.0zM431.9 17.2h5.0v4.6h-5.0zM485.6 21.7h5.0v4.6h-5.0zM568.6 21.7h5.0v4.6h-5.0zM583.3 21.7h5.0v4.6h-5.0zM441.7 26.1h5.0v4.6h-5.0zM456.3 26.1h5.0v4.6h-5.0zM466.1 26.1h5.0v4.6h-5.0zM475.9 26.1h5.0v4.6h-5.0zM549.1 26.1h5.0v4.6h-5.0zM456.3 30.6h5.0v4.6h-5.0zM475.9 30.6h5.0v4.6h-5.0zM558.9 30.6h5.0v4.6h-5.0zM607.7 30.6h5.0v4.6h-5.0zM392.9 35.0h5.0v4.6h-5.0zM436.8 35.0h5.0v4.6h-5.0zM554.0 35.0h5.0v4.6h-5.0zM563.8 35.0h5.0v4.6h-5.0zM597.9 35.0h5.0v4.6h-5.0zM397.7 39.5h5.0v4.6h-5.0zM593.1 39.5h5.0v4.6h-5.0zM397.7 48.3h5.0v4.6h-5.0zM549.1 61.7h5.0v4.6h-5.0zM500.3 70.6h5.0v4.6h-5.0zM544.2 70.6h5.0v4.6h-5.0zM558.9 70.6h5.0v4.6h-5.0zM500.3 75.0h5.0v4.6h-5.0zM431.9 79.4h5.0v4.6h-5.0zM446.6 79.4h5.0v4.6h-5.0zM436.8 83.9h5.0v4.6h-5.0zM456.3 83.9h9.9v4.6h-9.9zM617.5 92.8h5.0v4.6h-5.0zM534.5 110.6h5.0v4.6h-5.0zM534.5 119.4h5.0v4.6h-5.0zM573.5 119.4h5.0v4.6h-5.0zM544.2 123.9h5.0v4.6h-5.0zM417.3 137.2h5.0v4.6h-5.0zM480.8 141.7h5.0v4.6h-5.0zM583.3 141.7h5.0v4.6h-5.0zM632.1 141.7h5.0v4.6h-5.0zM480.8 146.1h5.0v4.6h-5.0zM456.3 150.5h5.0v4.6h-5.0zM466.1 155.0h5.0v4.6h-5.0zM549.1 172.8h5.0v4.6h-5.0zM495.4 186.1h5.0v4.6h-5.0zM524.7 186.1h5.0v4.6h-5.0zM549.1 186.1h5.0v4.6h-5.0zM544.2 190.5h5.0v4.6h-5.0zM578.4 190.5h5.0v4.6h-5.0zM573.5 195.0h5.0v4.6h-5.0zM383.1 199.4h5.0v4.6h-5.0zM534.5 199.4h5.0v4.6h-5.0zM544.2 199.4h5.0v4.6h-5.0zM573.5 199.4h5.0v4.6h-5.0zM383.1 203.9h5.0v4.6h-5.0zM427.0 203.9h5.0v4.6h-5.0zM451.5 203.9h5.0v4.6h-5.0zM544.2 203.9h5.0v4.6h-5.0zM451.5 208.3h5.0v4.6h-5.0zM597.9 221.6h5.0v4.6h-5.0zM441.7 235.0h5.0v4.6h-5.0zM461.2 235.0h5.0v4.6h-5.0zM471.0 235.0h5.0v4.6h-5.0zM597.9 235.0h9.9v4.6h-9.9zM456.3 239.4h5.0v4.6h-5.0z"/>
<path fill="#180000" d="M461.2 12.8h5.0v4.6h-5.0zM475.9 17.2h5.0v4.6h-5.0zM441.7 21.7h5.0v4.6h-5.0zM456.3 21.7h5.0v4.6h-5.0zM471.0 21.7h5.0v4.6h-5.0zM544.2 21.7h5.0v4.6h-5.0zM563.8 21.7h5.0v4.6h-5.0zM490.5 26.1h5.0v4.6h-5.0zM436.8 30.6h5.0v4.6h-5.0zM471.0 35.0h5.0v4.6h-5.0zM480.8 35.0h5.0v4.6h-5.0zM441.7 39.5h5.0v4.6h-5.0zM617.5 39.5h5.0v4.6h-5.0zM534.5 48.3h5.0v4.6h-5.0zM563.8 48.3h5.0v4.6h-5.0zM402.6 61.7h5.0v4.6h-5.0zM412.4 66.1h5.0v4.6h-5.0zM578.4 75.0h5.0v4.6h-5.0zM427.0 79.4h5.0v4.6h-5.0zM588.2 79.4h5.0v4.6h-5.0zM544.2 83.9h5.0v4.6h-5.0zM588.2 83.9h5.0v4.6h-5.0zM397.7 88.3h5.0v4.6h-5.0zM500.3 88.3h5.0v4.6h-5.0zM597.9 88.3h5.0v4.6h-5.0zM622.4 97.2h5.0v4.6h-5.0zM510.1 101.7h5.0v4.6h-5.0zM529.6 101.7h5.0v4.6h-5.0zM524.7 110.6h5.0v4.6h-5.0zM539.3 115.0h5.0v4.6h-5.0zM627.2 115.0h9.9v4.6h-9.9zM549.1 119.4h5.0v4.6h-5.0zM514.9 123.9h9.9v4.6h-9.9zM558.9 123.9h5.0v4.6h-5.0zM417.3 132.8h5.0v4.6h-5.0zM451.5 137.2h5.0v4.6h-5.0zM466.1 137.2h5.0v4.6h-5.0zM627.2 137.2h5.0v4.6h-5.0zM475.9 141.7h5.0v4.6h-5.0zM485.6 141.7h5.0v4.6h-5.0zM461.2 146.1h5.0v4.6h-5.0zM475.9 150.5h5.0v4.6h-5.0zM485.6 155.0h5.0v4.6h-5.0zM441.7 159.4h5.0v4.6h-5.0zM451.5 159.4h5.0v4.6h-5.0zM475.9 159.4h5.0v4.6h-5.0zM534.5 195.0h5.0v4.6h-5.0zM436.8 199.4h5.0v4.6h-5.0zM549.1 199.4h5.0v4.6h-5.0zM417.3 203.9h5.0v4.6h-5.0zM583.3 212.7h5.0v4.6h-5.0zM597.9 217.2h5.0v4.6h-5.0zM602.8 221.6h5.0v4.6h-5.0zM602.8 226.1h5.0v4.6h-5.0zM627.2 230.5h5.0v4.6h-5.0zM436.8 235.0h5.0v4.6h-5.0zM446.6 239.4h5.0v4.6h-5.0zM461.2 239.4h5.0v4.6h-5.0z"/>
<path fill="#1a0000" d="M422.2 12.8h5.0v4.6h-5.0zM451.5 12.8h5.0v4.6h-5.0zM490.5 12.8h5.0v4.6h-5.0zM563.8 12.8h5.0v4.6h-5.0zM436.8 17.2h5.0v4.6h-5.0zM446.6 17.2h5.0v4.6h-5.0zM480.8 17.2h5.0v4.6h-5.0zM446.6 21.7h5.0v4.6h-5.0zM446.6 26.1h9.9v4.6h-9.9zM558.9 26.1h5.0v4.6h-5.0zM568.6 26.1h5.0v4.6h-5.0zM441.7 30.6h9.9v4.6h-9.9zM568.6 30.6h5.0v4.6h-5.0zM417.3 35.0h5.0v4.6h-5.0zM431.9 35.0h5.0v4.6h-5.0zM402.6 39.5h5.0v4.6h-5.0zM422.2 39.5h5.0v4.6h-5.0zM466.1 39.5h5.0v4.6h-5.0zM563.8 39.5h5.0v4.6h-5.0zM602.8 39.5h5.0v4.6h-5.0zM422.2 43.9h5.0v4.6h-5.0zM436.8 43.9h5.0v4.6h-5.0zM466.1 43.9h5.0v4.6h-5.0zM397.7 52.8h5.0v4.6h-5.0zM480.8 52.8h5.0v4.6h-5.0zM402.6 66.1h5.0v4.6h-5.0zM558.9 66.1h5.0v4.6h-5.0zM549.1 70.6h5.0v4.6h-5.0zM573.5 70.6h5.0v4.6h-5.0zM456.3 75.0h5.0v4.6h-5.0zM573.5 75.0h5.0v4.6h-5.0zM583.3 75.0h5.0v4.6h-5.0zM597.9 79.4h5.0v4.6h-5.0zM627.2 79.4h9.9v4.6h-9.9zM451.5 83.9h5.0v4.6h-5.0zM495.4 83.9h5.0v4.6h-5.0zM593.1 83.9h5.0v4.6h-5.0zM446.6 88.3h5.0v4.6h-5.0zM578.4 88.3h5.0v4.6h-5.0zM617.5 88.3h5.0v4.6h-5.0zM519.8 110.6h5.0v4.6h-5.0zM544.2 115.0h5.0v4.6h-5.0zM554.0 123.9h5.0v4.6h-5.0zM573.5 123.9h5.0v4.6h-5.0zM632.1 123.9h5.0v4.6h-5.0zM534.5 128.3h14.8v4.6h-14.8zM431.9 137.2h5.0v4.6h-5.0zM441.7 141.7h5.0v4.6h-5.0zM451.5 141.7h5.0v4.6h-5.0zM431.9 146.1h5.0v4.6h-5.0zM441.7 146.1h5.0v4.6h-5.0zM485.6 146.1h5.0v4.6h-5.0zM427.0 150.5h9.9v4.6h-9.9zM461.2 150.5h5.0v4.6h-5.0zM597.9 150.5h5.0v4.6h-5.0zM446.6 155.0h5.0v4.6h-5.0zM461.2 155.0h5.0v4.6h-5.0zM588.2 155.0h5.0v4.6h-5.0zM480.8 159.4h5.0v4.6h-5.0zM505.2 177.2h5.0v4.6h-5.0zM544.2 177.2h9.9v4.6h-9.9zM539.3 181.6h5.0v4.6h-5.0zM422.2 199.4h14.8v4.6h-14.8zM456.3 208.3h5.0v4.6h-5.0zM544.2 212.7h5.0v4.6h-5.0zM573.5 217.2h5.0v4.6h-5.0zM588.2 217.2h5.0v4.6h-5.0zM578.4 226.1h5.0v4.6h-5.0zM475.9 230.5h5.0v4.6h-5.0zM490.5 235.0h5.0v4.6h-5.0zM475.9 239.4h5.0v4.6h-5.0z"/>
<path fill="#1b0000" d="M441.7 12.8h5.0v4.6h-5.0zM480.8 26.1h9.9v4.6h-9.9zM529.6 26.1h5.0v4.6h-5.0zM554.0 26.1h5.0v4.6h-5.0zM583.3 26.1h5.0v4.6h-5.0zM471.0 30.6h5.0v4.6h-5.0zM544.2 30.6h5.0v4.6h-5.0zM402.6 35.0h9.9v4.6h-9.9zM602.8 35.0h5.0v4.6h-5.0zM627.2 35.0h5.0v4.6h-5.0zM407.5 43.9h9.9v4.6h-9.9zM602.8 43.9h5.0v4.6h-5.0zM466.1 48.3h9.9v4.6h-9.9zM539.3 48.3h5.0v4.6h-5.0zM544.2 57.2h5.0v4.6h-5.0zM549.1 66.1h5.0v4.6h-5.0zM495.4 70.6h5.0v4.6h-5.0zM544.2 75.0h5.0v4.6h-5.0zM441.7 79.4h5.0v4.6h-5.0zM544.2 79.4h5.0v4.6h-5.0zM451.5 88.3h5.0v4.6h-5.0zM593.1 88.3h5.0v4.6h-5.0zM607.7 88.3h9.9v4.6h-9.9zM627.2 119.4h5.0v4.6h-5.0zM549.1 123.9h5.0v4.6h-5.0zM568.6 123.9h5.0v4.6h-5.0zM573.5 128.3h5.0v4.6h-5.0zM632.1 137.2h5.0v4.6h-5.0zM436.8 141.7h5.0v4.6h-5.0zM475.9 155.0h5.0v4.6h-5.0zM456.3 159.4h5.0v4.6h-5.0zM466.1 159.4h5.0v4.6h-5.0zM593.1 163.9h5.0v4.6h-5.0zM583.3 172.8h5.0v4.6h-5.0zM524.7 181.6h5.0v4.6h-5.0zM578.4 181.6h5.0v4.6h-5.0zM431.9 186.1h5.0v4.6h-5.0zM544.2 186.1h5.0v4.6h-5.0zM427.0 190.5h5.0v4.6h-5.0zM544.2 195.0h5.0v4.6h-5.0zM578.4 195.0h5.0v4.6h-5.0zM588.2 208.3h5.0v4.6h-5.0zM583.3 221.6h5.0v4.6h-5.0zM573.5 226.1h5.0v4.6h-5.0zM436.8 230.5h5.0v4.6h-5.0zM480.8 230.5h9.9v4.6h-9.9zM573.5 230.5h5.0v4.6h-5.0zM383.1 235.0h5.0v4.6h-5.0zM417.3 239.4h5.0v4.6h-5.0zM427.0 239.4h5.0v4.6h-5.0zM466.1 239.4h5.0v4.6h-5.0z"/>
<path fill="#1d0000" d="M427.0 12.8h5.0v4.6h-5.0zM466.1 12.8h5.0v4.6h-5.0zM495.4 12.8h5.0v4.6h-5.0zM544.2 12.8h5.0v4.6h-5.0zM485.6 17.2h5.0v4.6h-5.0zM495.4 17.2h5.0v4.6h-5.0zM544.2 17.2h9.9v4.6h-9.9zM490.5 21.7h5.0v4.6h-5.0zM558.9 21.7h5.0v4.6h-5.0zM495.4 26.1h5.0v4.6h-5.0zM563.8 26.1h5.0v4.6h-5.0zM466.1 30.6h5.0v4.6h-5.0zM583.3 30.6h5.0v4.6h-5.0zM490.5 35.0h5.0v4.6h-5.0zM558.9 35.0h5.0v4.6h-5.0zM607.7 35.0h5.0v4.6h-5.0zM407.5 39.5h9.9v4.6h-9.9zM475.9 39.5h5.0v4.6h-5.0zM558.9 39.5h5.0v4.6h-5.0zM612.6 39.5h5.0v4.6h-5.0zM402.6 43.9h5.0v4.6h-5.0zM563.8 43.9h5.0v4.6h-5.0zM544.2 52.8h5.0v4.6h-5.0zM568.6 70.6h5.0v4.6h-5.0zM422.2 75.0h5.0v4.6h-5.0zM578.4 79.4h5.0v4.6h-5.0zM427.0 83.9h5.0v4.6h-5.0zM441.7 83.9h5.0v4.6h-5.0zM573.5 83.9h5.0v4.6h-5.0zM583.3 83.9h5.0v4.6h-5.0zM612.6 83.9h5.0v4.6h-5.0zM495.4 88.3h5.0v4.6h-5.0zM602.8 88.3h5.0v4.6h-5.0zM505.2 97.2h5.0v4.6h-5.0zM529.6 110.6h5.0v4.6h-5.0zM627.2 110.6h5.0v4.6h-5.0zM510.1 119.4h5.0v4.6h-5.0zM563.8 123.9h5.0v4.6h-5.0zM422.2 132.8h5.0v4.6h-5.0zM422.2 137.2h5.0v4.6h-5.0zM622.4 137.2h5.0v4.6h-5.0zM422.2 141.7h5.0v4.6h-5.0zM431.9 141.7h5.0v4.6h-5.0zM446.6 141.7h5.0v4.6h-5.0zM588.2 141.7h5.0v4.6h-5.0zM593.1 150.5h5.0v4.6h-5.0zM480.8 155.0h5.0v4.6h-5.0zM583.3 155.0h5.0v4.6h-5.0zM485.6 159.4h5.0v4.6h-5.0zM583.3 163.9h5.0v4.6h-5.0zM519.8 181.6h5.0v4.6h-5.0zM573.5 181.6h5.0v4.6h-5.0zM500.3 186.1h9.9v4.6h-9.9zM573.5 186.1h5.0v4.6h-5.0zM412.4 190.5h5.0v4.6h-5.0zM549.1 190.5h5.0v4.6h-5.0zM578.4 199.4h5.0v4.6h-5.0zM539.3 203.9h5.0v4.6h-5.0zM441.7 208.3h5.0v4.6h-5.0zM539.3 208.3h5.0v4.6h-5.0zM573.5 208.3h5.0v4.6h-5.0zM588.2 212.7h5.0v4.6h-5.0zM549.1 221.6h5.0v4.6h-5.0zM597.9 226.1h5.0v4.6h-5.0zM451.5 235.0h5.0v4.6h-5.0zM568.6 235.0h5.0v4.6h-5.0zM422.2 239.4h5.0v4.6h-5.0zM431.9 239.4h5.0v4.6h-5.0zM602.8 239.4h5.0v4.6h-5.0z"/>
<path fill="#1e0000" d="M480.8 12.8h5.0v4.6h-5.0zM568.6 12.8h5.0v4.6h-5.0zM441.7 17.2h5.0v4.6h-5.0zM451.5 21.7h5.0v4.6h-5.0zM466.1 21.7h5.0v4.6h-5.0zM431.9 26.1h5.0v4.6h-5.0zM588.2 26.1h9.9v4.6h-9.9zM617.5 26.1h5.0v4.6h-5.0zM427.0 30.6h5.0v4.6h-5.0zM451.5 30.6h5.0v4.6h-5.0zM490.5 30.6h5.0v4.6h-5.0zM563.8 30.6h5.0v4.6h-5.0zM597.9 30.6h5.0v4.6h-5.0zM617.5 30.6h5.0v4.6h-5.0zM427.0 35.0h5.0v4.6h-5.0zM622.4 35.0h5.0v4.6h-5.0zM461.2 43.9h5.0v4.6h-5.0zM607.7 43.9h5.0v4.6h-5.0zM392.9 48.3h5.0v4.6h-5.0zM402.6 48.3h5.0v4.6h-5.0zM412.4 57.2h5.0v4.6h-5.0zM554.0 66.1h5.0v4.6h-5.0zM446.6 70.6h5.0v4.6h-5.0zM456.3 70.6h5.0v4.6h-5.0zM554.0 70.6h5.0v4.6h-5.0zM427.0 75.0h5.0v4.6h-5.0zM495.4 75.0h5.0v4.6h-5.0zM549.1 75.0h5.0v4.6h-5.0zM451.5 79.4h5.0v4.6h-5.0zM495.4 79.4h5.0v4.6h-5.0zM622.4 79.4h5.0v4.6h-5.0zM431.9 83.9h5.0v4.6h-5.0zM597.9 83.9h5.0v4.6h-5.0zM456.3 88.3h5.0v4.6h-5.0zM583.3 88.3h5.0v4.6h-5.0zM622.4 101.7h5.0v4.6h-5.0zM505.2 106.1h5.0v4.6h-5.0zM524.7 106.1h5.0v4.6h-5.0zM505.2 110.6h5.0v4.6h-5.0zM544.2 119.4h5.0v4.6h-5.0zM632.1 119.4h5.0v4.6h-5.0zM539.3 123.9h5.0v4.6h-5.0zM627.2 128.3h9.9v4.6h-9.9zM441.7 137.2h5.0v4.6h-5.0zM427.0 141.7h5.0v4.6h-5.0zM456.3 141.7h5.0v4.6h-5.0zM466.1 146.1h9.9v4.6h-9.9zM436.8 150.5h5.0v4.6h-5.0zM451.5 150.5h5.0v4.6h-5.0zM466.1 150.5h5.0v4.6h-5.0zM456.3 155.0h5.0v4.6h-5.0zM471.0 155.0h5.0v4.6h-5.0zM549.1 168.3h5.0v4.6h-5.0zM583.3 168.3h5.0v4.6h-5.0zM500.3 177.2h5.0v4.6h-5.0zM578.4 177.2h5.0v4.6h-5.0zM500.3 181.6h5.0v4.6h-5.0zM519.8 186.1h5.0v4.6h-5.0zM539.3 190.5h5.0v4.6h-5.0zM422.2 195.0h5.0v4.6h-5.0zM417.3 199.4h5.0v4.6h-5.0zM441.7 199.4h5.0v4.6h-5.0zM539.3 199.4h5.0v4.6h-5.0zM431.9 203.9h5.0v4.6h-5.0zM441.7 203.9h5.0v4.6h-5.0zM534.5 203.9h5.0v4.6h-5.0zM427.0 208.3h5.0v4.6h-5.0zM436.8 208.3h5.0v4.6h-5.0zM578.4 208.3h5.0v4.6h-5.0zM583.3 226.1h5.0v4.6h-5.0zM441.7 230.5h9.9v4.6h-9.9zM431.9 235.0h5.0v4.6h-5.0zM446.6 235.0h5.0v4.6h-5.0zM456.3 235.0h5.0v4.6h-5.0zM573.5 235.0h5.0v4.6h-5.0zM383.1 239.4h5.0v4.6h-5.0zM436.8 239.4h9.9v4.6h-9.9zM485.6 239.4h5.0v4.6h-5.0zM578.4 239.4h5.0v4.6h-5.0zM627.2 239.4h5.0v4.6h-5.0z"/>
<path fill="#1f0000" d="M431.9 12.8h5.0v4.6h-5.0zM558.9 12.8h5.0v4.6h-5.0zM490.5 17.2h5.0v4.6h-5.0zM563.8 17.2h5.0v4.6h-5.0zM534.5 21.7h5.0v4.6h-5.0zM549.1 21.7h5.0v4.6h-5.0zM471.0 26.1h5.0v4.6h-5.0zM597.9 26.1h5.0v4.6h-5.0zM431.9 30.6h5.0v4.6h-5.0zM480.8 30.6h5.0v4.6h-5.0zM573.5 30.6h5.0v4.6h-5.0zM612.6 30.6h5.0v4.6h-5.0zM397.7 35.0h5.0v4.6h-5.0zM427.0 39.5h5.0v4.6h-5.0zM568.6 39.5h5.0v4.6h-5.0zM588.2 39.5h5.0v4.6h-5.0zM622.4 39.5h5.0v4.6h-5.0zM407.5 61.7h9.9v4.6h-9.9zM407.5 66.1h5.0v4.6h-5.0zM431.9 75.0h5.0v4.6h-5.0zM441.7 75.0h5.0v4.6h-5.0zM422.2 79.4h5.0v4.6h-5.0zM593.1 79.4h5.0v4.6h-5.0zM446.6 83.9h5.0v4.6h-5.0zM461.2 88.3h5.0v4.6h-5.0zM622.4 88.3h5.0v4.6h-5.0zM500.3 101.7h5.0v4.6h-5.0zM524.7 101.7h5.0v4.6h-5.0zM529.6 106.1h5.0v4.6h-5.0zM539.3 110.6h5.0v4.6h-5.0zM505.2 115.0h5.0v4.6h-5.0zM539.3 119.4h5.0v4.6h-5.0zM558.9 119.4h5.0v4.6h-5.0zM627.2 123.9h5.0v4.6h-5.0zM627.2 132.8h9.9v4.6h-9.9zM436.8 137.2h5.0v4.6h-5.0zM446.6 137.2h5.0v4.6h-5.0zM456.3 137.2h5.0v4.6h-5.0zM412.4 146.1h5.0v4.6h-5.0zM451.5 146.1h5.0v4.6h-5.0zM475.9 146.1h5.0v4.6h-5.0zM436.8 155.0h5.0v4.6h-5.0zM431.9 159.4h9.9v4.6h-9.9zM544.2 172.8h5.0v4.6h-5.0zM505.2 181.6h14.8v4.6h-14.8zM412.4 186.1h5.0v4.6h-5.0zM510.1 186.1h5.0v4.6h-5.0zM417.3 190.5h5.0v4.6h-5.0zM417.3 195.0h5.0v4.6h-5.0zM529.6 199.4h5.0v4.6h-5.0zM422.2 203.9h5.0v4.6h-5.0zM578.4 203.9h5.0v4.6h-5.0zM431.9 208.3h5.0v4.6h-5.0zM573.5 212.7h5.0v4.6h-5.0zM568.6 221.6h9.9v4.6h-9.9zM578.4 235.0h5.0v4.6h-5.0zM627.2 235.0h5.0v4.6h-5.0zM490.5 239.4h5.0v4.6h-5.0zM563.8 239.4h5.0v4.6h-5.0zM573.5 239.4h5.0v4.6h-5.0z"/>
<path fill="#210000" d="M436.8 12.8h5.0v4.6h-5.0zM554.0 12.8h5.0v4.6h-5.0zM471.0 17.2h5.0v4.6h-5.0zM534.5 17.2h9.9v4.6h-9.9zM554.0 17.2h5.0v4.6h-5.0zM568.6 17.2h5.0v4.6h-5.0zM475.9 21.7h9.9v4.6h-9.9zM495.4 21.7h5.0v4.6h-5.0zM539.3 21.7h5.0v4.6h-5.0zM554.0 21.7h5.0v4.6h-5.0zM436.8 26.1h5.0v4.6h-5.0zM544.2 26.1h5.0v4.6h-5.0zM422.2 30.6h5.0v4.6h-5.0zM485.6 30.6h5.0v4.6h-5.0zM554.0 30.6h5.0v4.6h-5.0zM412.4 35.0h5.0v4.6h-5.0zM475.9 35.0h5.0v4.6h-5.0zM617.5 35.0h5.0v4.6h-5.0zM632.1 35.0h5.0v4.6h-5.0zM417.3 39.5h5.0v4.6h-5.0zM436.8 39.5h5.0v4.6h-5.0zM597.9 39.5h5.0v4.6h-5.0zM607.7 39.5h5.0v4.6h-5.0zM558.9 43.9h5.0v4.6h-5.0zM593.1 43.9h5.0v4.6h-5.0zM612.6 43.9h5.0v4.6h-5.0zM431.9 66.1h5.0v4.6h-5.0zM495.4 66.1h5.0v4.6h-5.0zM427.0 70.6h5.0v4.6h-5.0zM505.2 70.6h5.0v4.6h-5.0zM578.4 70.6h5.0v4.6h-5.0zM436.8 75.0h5.0v4.6h-5.0zM446.6 75.0h5.0v4.6h-5.0zM573.5 79.4h5.0v4.6h-5.0zM583.3 79.4h5.0v4.6h-5.0zM422.2 83.9h5.0v4.6h-5.0zM588.2 88.3h5.0v4.6h-5.0zM622.4 92.8h5.0v4.6h-5.0zM514.9 101.7h5.0v4.6h-5.0zM627.2 101.7h5.0v4.6h-5.0zM529.6 115.0h9.9v4.6h-9.9zM573.5 115.0h5.0v4.6h-5.0zM431.9 128.3h5.0v4.6h-5.0zM427.0 137.2h5.0v4.6h-5.0zM461.2 137.2h5.0v4.6h-5.0zM466.1 141.7h9.9v4.6h-9.9zM597.9 141.7h5.0v4.6h-5.0zM427.0 146.1h5.0v4.6h-5.0zM436.8 146.1h5.0v4.6h-5.0zM446.6 146.1h5.0v4.6h-5.0zM412.4 150.5h5.0v4.6h-5.0zM480.8 150.5h5.0v4.6h-5.0zM451.5 155.0h5.0v4.6h-5.0zM588.2 163.9h5.0v4.6h-5.0zM544.2 181.6h5.0v4.6h-5.0zM514.9 186.1h5.0v4.6h-5.0zM578.4 186.1h5.0v4.6h-5.0zM539.3 195.0h5.0v4.6h-5.0zM436.8 203.9h5.0v4.6h-5.0zM568.6 212.7h5.0v4.6h-5.0zM583.3 217.2h5.0v4.6h-5.0zM578.4 221.6h5.0v4.6h-5.0zM431.9 230.5h5.0v4.6h-5.0zM602.8 230.5h5.0v4.6h-5.0zM466.1 235.0h5.0v4.6h-5.0zM485.6 235.0h5.0v4.6h-5.0zM583.3 235.0h5.0v4.6h-5.0zM471.0 239.4h5.0v4.6h-5.0zM480.8 239.4h5.0v4.6h-5.0zM583.3 239.4h5.0v4.6h-5.0z"/>
<path fill="#220000" d="M456.3 12.8h5.0v4.6h-5.0zM471.0 12.8h5.0v4.6h-5.0zM485.6 12.8h5.0v4.6h-5.0zM451.5 17.2h9.9v4.6h-9.9zM558.9 17.2h5.0v4.6h-5.0zM436.8 21.7h5.0v4.6h-5.0zM539.3 26.1h5.0v4.6h-5.0zM612.6 26.1h5.0v4.6h-5.0zM461.2 30.6h5.0v4.6h-5.0zM549.1 30.6h5.0v4.6h-5.0zM622.4 30.6h5.0v4.6h-5.0zM422.2 35.0h5.0v4.6h-5.0zM466.1 35.0h5.0v4.6h-5.0zM485.6 35.0h5.0v4.6h-5.0zM612.6 35.0h5.0v4.6h-5.0zM461.2 39.5h5.0v4.6h-5.0zM471.0 39.5h5.0v4.6h-5.0zM383.1 43.9h5.0v4.6h-5.0zM588.2 43.9h5.0v4.6h-5.0zM617.5 43.9h5.0v4.6h-5.0zM519.8 48.3h5.0v4.6h-5.0zM607.7 48.3h5.0v4.6h-5.0zM539.3 52.8h5.0v4.6h-5.0zM607.7 52.8h5.0v4.6h-5.0zM402.6 57.2h5.0v4.6h-5.0zM490.5 57.2h5.0v4.6h-5.0zM549.1 57.2h5.0v4.6h-5.0zM495.4 61.7h5.0v4.6h-5.0zM563.8 66.1h5.0v4.6h-5.0zM422.2 70.6h5.0v4.6h-5.0zM451.5 75.0h5.0v4.6h-5.0zM436.8 79.4h5.0v4.6h-5.0zM456.3 79.4h5.0v4.6h-5.0zM578.4 83.9h5.0v4.6h-5.0zM441.7 88.3h5.0v4.6h-5.0zM500.3 92.8h5.0v4.6h-5.0zM500.3 97.2h5.0v4.6h-5.0zM627.2 106.1h5.0v4.6h-5.0zM549.1 115.0h5.0v4.6h-5.0zM568.6 119.4h5.0v4.6h-5.0zM461.2 141.7h5.0v4.6h-5.0zM441.7 150.5h9.9v4.6h-9.9zM471.0 150.5h5.0v4.6h-5.0zM485.6 150.5h5.0v4.6h-5.0zM427.0 155.0h5.0v4.6h-5.0zM441.7 155.0h5.0v4.6h-5.0zM461.2 159.4h5.0v4.6h-5.0zM471.0 159.4h5.0v4.6h-5.0zM549.1 181.6h5.0v4.6h-5.0zM422.2 186.1h5.0v4.6h-5.0zM539.3 186.1h5.0v4.6h-5.0zM549.1 195.0h5.0v4.6h-5.0zM446.6 199.4h5.0v4.6h-5.0zM549.1 212.7h5.0v4.6h-5.0zM578.4 212.7h5.0v4.6h-5.0zM568.6 217.2h5.0v4.6h-5.0zM568.6 226.1h5.0v4.6h-5.0zM627.2 226.1h5.0v4.6h-5.0zM568.6 230.5h5.0v4.6h-5.0zM578.4 230.5h5.0v4.6h-5.0zM475.9 235.0h9.9v4.6h-9.9zM568.6 239.4h5.0v4.6h-5.0zM597.9 239.4h5.0v4.6h-5.0z"/>
<path fill="#230000" d="M417.3 30.6h5.0v4.6h-5.0zM593.1 35.0h5.0v4.6h-5.0zM500.3 43.9h5.0v4.6h-5.0zM573.5 190.5h5.0v4.6h-5.0zM549.1 203.9h5.0v4.6h-5.0zM573.5 203.9h5.0v4.6h-5.0zM422.2 208.3h5.0v4.6h-5.0zM583.3 230.5h5.0v4.6h-5.0zM597.9 230.5h5.0v4.6h-5.0z"/>
<path fill="#250000" d="M500.3 39.5h5.0v4.6h-5.0zM427.0 43.9h5.0v4.6h-5.0zM568.6 57.2h5.0v4.6h-5.0zM383.1 83.9h5.0v4.6h-5.0zM632.1 92.8h5.0v4.6h-5.0zM427.0 163.9h5.0v4.6h-5.0zM544.2 163.9h5.0v4.6h-5.0zM383.1 212.7h5.0v4.6h-5.0zM461.2 230.5h5.0v4.6h-5.0z"/>
<path fill="#260000" d="M495.4 35.0h5.0v4.6h-5.0zM544.2 35.0h5.0v4.6h-5.0zM573.5 39.5h5.0v4.6h-5.0zM558.9 52.8h5.0v4.6h-5.0zM456.3 66.1h5.0v4.6h-5.0zM466.1 66.1h9.9v4.6h-9.9zM490.5 75.0h5.0v4.6h-5.0zM485.6 79.4h5.0v4.6h-5.0zM554.0 79.4h5.0v4.6h-5.0zM632.1 88.3h5.0v4.6h-5.0zM573.5 92.8h9.9v4.6h-9.9zM558.9 97.2h5.0v4.6h-5.0zM558.9 106.1h5.0v4.6h-5.0zM397.7 110.6h5.0v4.6h-5.0zM558.9 110.6h5.0v4.6h-5.0zM632.1 110.6h5.0v4.6h-5.0zM563.8 119.4h5.0v4.6h-5.0zM510.1 123.9h5.0v4.6h-5.0zM392.9 128.3h5.0v4.6h-5.0zM617.5 128.3h5.0v4.6h-5.0zM383.1 132.8h5.0v4.6h-5.0zM402.6 132.8h5.0v4.6h-5.0zM558.9 141.7h5.0v4.6h-5.0zM593.1 141.7h5.0v4.6h-5.0zM607.7 146.1h5.0v4.6h-5.0zM392.9 159.4h5.0v4.6h-5.0zM549.1 159.4h5.0v4.6h-5.0zM568.6 159.4h5.0v4.6h-5.0zM622.4 168.3h5.0v4.6h-5.0zM617.5 172.8h5.0v4.6h-5.0zM392.9 177.2h5.0v4.6h-5.0zM422.2 177.2h5.0v4.6h-5.0zM573.5 177.2h5.0v4.6h-5.0zM622.4 177.2h5.0v4.6h-5.0zM632.1 177.2h5.0v4.6h-5.0zM490.5 181.6h5.0v4.6h-5.0zM558.9 181.6h5.0v4.6h-5.0zM622.4 181.6h14.8v4.6h-14.8zM407.5 186.1h5.0v4.6h-5.0zM495.4 195.0h5.0v4.6h-5.0zM554.0 195.0h5.0v4.6h-5.0zM471.0 199.4h5.0v4.6h-5.0zM554.0 199.4h5.0v4.6h-5.0zM583.3 199.4h5.0v4.6h-5.0zM456.3 203.9h5.0v4.6h-5.0zM461.2 208.3h5.0v4.6h-5.0zM417.3 212.7h9.9v4.6h-9.9zM436.8 212.7h5.0v4.6h-5.0zM456.3 212.7h5.0v4.6h-5.0zM466.1 212.7h5.0v4.6h-5.0zM632.1 212.7h5.0v4.6h-5.0zM632.1 217.2h5.0v4.6h-5.0zM422.2 221.6h9.9v4.6h-9.9zM588.2 221.6h5.0v4.6h-5.0zM607.7 221.6h5.0v4.6h-5.0zM427.0 230.5h5.0v4.6h-5.0zM622.4 230.5h5.0v4.6h-5.0zM554.0 239.4h5.0v4.6h-5.0zM612.6 239.4h5.0v4.6h-5.0zM632.1 239.4h5.0v4.6h-5.0z"/>
<path fill="#270000" d="M505.2 12.8h5.0v4.6h-5.0zM500.3 17.2h5.0v4.6h-5.0zM388.0 35.0h5.0v4.6h-5.0zM451.5 39.5h5.0v4.6h-5.0zM622.4 48.3h5.0v4.6h-5.0zM568.6 52.8h5.0v4.6h-5.0zM632.1 52.8h5.0v4.6h-5.0zM558.9 57.2h5.0v4.6h-5.0zM583.3 70.6h5.0v4.6h-5.0zM607.7 75.0h5.0v4.6h-5.0zM568.6 83.9h5.0v4.6h-5.0zM622.4 83.9h5.0v4.6h-5.0zM431.9 88.3h5.0v4.6h-5.0zM510.1 97.2h5.0v4.6h-5.0zM529.6 97.2h5.0v4.6h-5.0zM607.7 97.2h5.0v4.6h-5.0zM627.2 97.2h5.0v4.6h-5.0zM573.5 101.7h5.0v4.6h-5.0zM500.3 106.1h5.0v4.6h-5.0zM383.1 110.6h5.0v4.6h-5.0zM495.4 110.6h5.0v4.6h-5.0zM392.9 119.4h5.0v4.6h-5.0zM622.4 123.9h5.0v4.6h-5.0zM622.4 128.3h5.0v4.6h-5.0zM412.4 132.8h5.0v4.6h-5.0zM544.2 132.8h5.0v4.6h-5.0zM593.1 132.8h5.0v4.6h-5.0zM407.5 137.2h5.0v4.6h-5.0zM568.6 137.2h5.0v4.6h-5.0zM588.2 137.2h5.0v4.6h-5.0zM602.8 146.1h5.0v4.6h-5.0zM617.5 146.1h5.0v4.6h-5.0zM397.7 155.0h5.0v4.6h-5.0zM593.1 155.0h5.0v4.6h-5.0zM558.9 159.4h5.0v4.6h-5.0zM573.5 159.4h5.0v4.6h-5.0zM602.8 159.4h5.0v4.6h-5.0zM558.9 163.9h5.0v4.6h-5.0zM558.9 168.3h5.0v4.6h-5.0zM593.1 168.3h5.0v4.6h-5.0zM617.5 168.3h5.0v4.6h-5.0zM407.5 177.2h5.0v4.6h-5.0zM427.0 177.2h5.0v4.6h-5.0zM388.0 181.6h5.0v4.6h-5.0zM402.6 181.6h5.0v4.6h-5.0zM529.6 186.1h5.0v4.6h-5.0zM554.0 186.1h9.9v4.6h-9.9zM529.6 190.5h5.0v4.6h-5.0zM392.9 195.0h5.0v4.6h-5.0zM558.9 195.0h9.9v4.6h-9.9zM461.2 199.4h5.0v4.6h-5.0zM392.9 203.9h5.0v4.6h-5.0zM461.2 203.9h5.0v4.6h-5.0zM417.3 208.3h5.0v4.6h-5.0zM583.3 208.3h5.0v4.6h-5.0zM407.5 212.7h5.0v4.6h-5.0zM417.3 217.2h5.0v4.6h-5.0zM563.8 217.2h5.0v4.6h-5.0zM441.7 221.6h5.0v4.6h-5.0zM485.6 221.6h5.0v4.6h-5.0zM495.4 221.6h5.0v4.6h-5.0zM632.1 221.6h5.0v4.6h-5.0zM632.1 226.1h5.0v4.6h-5.0zM417.3 230.5h5.0v4.6h-5.0zM607.7 235.0h5.0v4.6h-5.0zM607.7 239.4h5.0v4.6h-5.0z"/>
<path fill="#290000" d="M529.6 12.8h5.0v4.6h-5.0zM519.8 17.2h5.0v4.6h-5.0zM510.1 21.7h5.0v4.6h-5.0zM524.7 21.7h5.0v4.6h-5.0zM514.9 26.1h9.9v4.6h-9.9zM534.5 26.1h5.0v4.6h-5.0zM505.2 30.6h5.0v4.6h-5.0zM456.3 35.0h5.0v4.6h-5.0zM554.0 39.5h5.0v4.6h-5.0zM397.7 43.9h5.0v4.6h-5.0zM451.5 43.9h5.0v4.6h-5.0zM632.1 43.9h5.0v4.6h-5.0zM612.6 57.2h5.0v4.6h-5.0zM480.8 61.7h5.0v4.6h-5.0zM573.5 66.1h5.0v4.6h-5.0zM407.5 70.6h5.0v4.6h-5.0zM510.1 70.6h5.0v4.6h-5.0zM388.0 75.0h5.0v4.6h-5.0zM627.2 75.0h5.0v4.6h-5.0zM466.1 83.9h5.0v4.6h-5.0zM627.2 88.3h5.0v4.6h-5.0zM451.5 92.8h5.0v4.6h-5.0zM495.4 92.8h5.0v4.6h-5.0zM563.8 92.8h5.0v4.6h-5.0zM495.4 97.2h5.0v4.6h-5.0zM524.7 97.2h5.0v4.6h-5.0zM602.8 97.2h5.0v4.6h-5.0zM612.6 97.2h5.0v4.6h-5.0zM402.6 101.7h5.0v4.6h-5.0zM519.8 101.7h5.0v4.6h-5.0zM558.9 115.0h5.0v4.6h-5.0zM578.4 119.4h5.0v4.6h-5.0zM490.5 123.9h5.0v4.6h-5.0zM407.5 128.3h5.0v4.6h-5.0zM578.4 141.7h5.0v4.6h-5.0zM612.6 146.1h5.0v4.6h-5.0zM397.7 150.5h5.0v4.6h-5.0zM554.0 150.5h5.0v4.6h-5.0zM568.6 150.5h5.0v4.6h-5.0zM617.5 150.5h5.0v4.6h-5.0zM627.2 150.5h5.0v4.6h-5.0zM554.0 155.0h5.0v4.6h-5.0zM490.5 159.4h5.0v4.6h-5.0zM583.3 159.4h5.0v4.6h-5.0zM597.9 159.4h5.0v4.6h-5.0zM607.7 159.4h5.0v4.6h-5.0zM397.7 163.9h5.0v4.6h-5.0zM456.3 168.3h5.0v4.6h-5.0zM563.8 168.3h5.0v4.6h-5.0zM597.9 168.3h5.0v4.6h-5.0zM627.2 168.3h5.0v4.6h-5.0zM490.5 172.8h5.0v4.6h-5.0zM597.9 172.8h5.0v4.6h-5.0zM593.1 177.2h5.0v4.6h-5.0zM593.1 181.6h5.0v4.6h-5.0zM402.6 186.1h5.0v4.6h-5.0zM627.2 186.1h5.0v4.6h-5.0zM402.6 190.5h5.0v4.6h-5.0zM514.9 190.5h5.0v4.6h-5.0zM563.8 190.5h5.0v4.6h-5.0zM407.5 195.0h5.0v4.6h-5.0zM446.6 195.0h5.0v4.6h-5.0zM627.2 195.0h5.0v4.6h-5.0zM627.2 199.4h5.0v4.6h-5.0zM388.0 203.9h5.0v4.6h-5.0zM500.3 203.9h9.9v4.6h-9.9zM529.6 203.9h5.0v4.6h-5.0zM632.1 203.9h5.0v4.6h-5.0zM446.6 208.3h5.0v4.6h-5.0zM471.0 208.3h5.0v4.6h-5.0zM602.8 212.7h5.0v4.6h-5.0zM554.0 217.2h5.0v4.6h-5.0zM602.8 217.2h5.0v4.6h-5.0zM563.8 221.6h5.0v4.6h-5.0zM588.2 226.1h5.0v4.6h-5.0zM383.1 230.5h5.0v4.6h-5.0zM407.5 230.5h5.0v4.6h-5.0zM451.5 230.5h5.0v4.6h-5.0zM490.5 230.5h5.0v4.6h-5.0zM617.5 230.5h5.0v4.6h-5.0zM563.8 235.0h5.0v4.6h-5.0zM612.6 235.0h5.0v4.6h-5.0z"/>
<path fill="#2a0000" d="M461.2 21.7h5.0v4.6h-5.0zM495.4 30.6h5.0v4.6h-5.0zM441.7 35.0h5.0v4.6h-5.0zM568.6 35.0h5.0v4.6h-5.0zM456.3 39.5h5.0v4.6h-5.0zM388.0 43.9h5.0v4.6h-5.0zM544.2 43.9h5.0v4.6h-5.0zM597.9 43.9h5.0v4.6h-5.0zM554.0 48.3h5.0v4.6h-5.0zM563.8 57.2h5.0v4.6h-5.0zM446.6 66.1h5.0v4.6h-5.0zM485.6 66.1h5.0v4.6h-5.0zM431.9 70.6h5.0v4.6h-5.0zM622.4 70.6h5.0v4.6h-5.0zM490.5 79.4h5.0v4.6h-5.0zM397.7 83.9h5.0v4.6h-5.0zM392.9 88.3h5.0v4.6h-5.0zM549.1 88.3h5.0v4.6h-5.0zM392.9 92.8h5.0v4.6h-5.0zM544.2 92.8h5.0v4.6h-5.0zM568.6 92.8h5.0v4.6h-5.0zM534.5 97.2h5.0v4.6h-5.0zM573.5 97.2h5.0v4.6h-5.0zM632.1 101.7h5.0v4.6h-5.0zM554.0 106.1h5.0v4.6h-5.0zM388.0 110.6h5.0v4.6h-5.0zM500.3 119.4h5.0v4.6h-5.0zM554.0 119.4h5.0v4.6h-5.0zM622.4 119.4h5.0v4.6h-5.0zM500.3 123.9h5.0v4.6h-5.0zM583.3 132.8h5.0v4.6h-5.0zM617.5 141.7h5.0v4.6h-5.0zM412.4 159.4h5.0v4.6h-5.0zM446.6 159.4h5.0v4.6h-5.0zM563.8 159.4h5.0v4.6h-5.0zM417.3 163.9h5.0v4.6h-5.0zM456.3 163.9h5.0v4.6h-5.0zM383.1 168.3h5.0v4.6h-5.0zM495.4 172.8h5.0v4.6h-5.0zM563.8 172.8h9.9v4.6h-9.9zM578.4 172.8h5.0v4.6h-5.0zM524.7 177.2h5.0v4.6h-5.0zM588.2 177.2h5.0v4.6h-5.0zM583.3 186.1h5.0v4.6h-5.0zM451.5 190.5h5.0v4.6h-5.0zM490.5 190.5h5.0v4.6h-5.0zM392.9 199.4h5.0v4.6h-5.0zM568.6 199.4h5.0v4.6h-5.0zM554.0 203.9h5.0v4.6h-5.0zM583.3 203.9h5.0v4.6h-5.0zM563.8 208.3h5.0v4.6h-5.0zM431.9 212.7h5.0v4.6h-5.0zM383.1 217.2h5.0v4.6h-5.0zM412.4 217.2h5.0v4.6h-5.0zM534.5 217.2h5.0v4.6h-5.0zM622.4 217.2h5.0v4.6h-5.0zM446.6 221.6h5.0v4.6h-5.0zM461.2 221.6h5.0v4.6h-5.0zM475.9 221.6h5.0v4.6h-5.0zM431.9 226.1h9.9v4.6h-9.9zM480.8 226.1h5.0v4.6h-5.0zM612.6 230.5h5.0v4.6h-5.0zM407.5 235.0h5.0v4.6h-5.0zM427.0 235.0h5.0v4.6h-5.0z"/>
<path fill="#2c0000" d="M510.1 17.2h9.9v4.6h-9.9zM573.5 21.7h5.0v4.6h-5.0zM622.4 26.1h5.0v4.6h-5.0zM632.1 30.6h5.0v4.6h-5.0zM461.2 35.0h5.0v4.6h-5.0zM529.6 43.9h5.0v4.6h-5.0zM627.2 43.9h5.0v4.6h-5.0zM485.6 61.7h5.0v4.6h-5.0zM563.8 61.7h5.0v4.6h-5.0zM392.9 70.6h5.0v4.6h-5.0zM490.5 70.6h5.0v4.6h-5.0zM627.2 70.6h5.0v4.6h-5.0zM402.6 75.0h5.0v4.6h-5.0zM490.5 83.9h5.0v4.6h-5.0zM558.9 83.9h5.0v4.6h-5.0zM383.1 88.3h5.0v4.6h-5.0zM563.8 88.3h5.0v4.6h-5.0zM573.5 88.3h5.0v4.6h-5.0zM597.9 92.8h5.0v4.6h-5.0zM388.0 97.2h5.0v4.6h-5.0zM461.2 97.2h5.0v4.6h-5.0zM554.0 97.2h5.0v4.6h-5.0zM602.8 101.7h5.0v4.6h-5.0zM397.7 106.1h5.0v4.6h-5.0zM573.5 106.1h5.0v4.6h-5.0zM392.9 123.9h5.0v4.6h-5.0zM383.1 128.3h5.0v4.6h-5.0zM549.1 132.8h5.0v4.6h-5.0zM617.5 132.8h5.0v4.6h-5.0zM402.6 137.2h5.0v4.6h-5.0zM480.8 137.2h5.0v4.6h-5.0zM549.1 137.2h5.0v4.6h-5.0zM383.1 141.7h5.0v4.6h-5.0zM607.7 141.7h5.0v4.6h-5.0zM402.6 146.1h5.0v4.6h-5.0zM578.4 146.1h5.0v4.6h-5.0zM597.9 146.1h5.0v4.6h-5.0zM402.6 150.5h5.0v4.6h-5.0zM417.3 150.5h5.0v4.6h-5.0zM392.9 155.0h5.0v4.6h-5.0zM422.2 155.0h5.0v4.6h-5.0zM607.7 155.0h9.9v4.6h-9.9zM407.5 159.4h5.0v4.6h-5.0zM588.2 159.4h5.0v4.6h-5.0zM607.7 163.9h5.0v4.6h-5.0zM632.1 163.9h5.0v4.6h-5.0zM417.3 168.3h5.0v4.6h-5.0zM485.6 168.3h5.0v4.6h-5.0zM568.6 168.3h5.0v4.6h-5.0zM602.8 168.3h5.0v4.6h-5.0zM407.5 172.8h5.0v4.6h-5.0zM397.7 177.2h5.0v4.6h-5.0zM417.3 177.2h5.0v4.6h-5.0zM431.9 177.2h5.0v4.6h-5.0zM510.1 177.2h5.0v4.6h-5.0zM563.8 177.2h5.0v4.6h-5.0zM627.2 177.2h5.0v4.6h-5.0zM417.3 186.1h5.0v4.6h-5.0zM397.7 190.5h5.0v4.6h-5.0zM436.8 190.5h5.0v4.6h-5.0zM505.2 190.5h5.0v4.6h-5.0zM593.1 195.0h5.0v4.6h-5.0zM388.0 199.4h5.0v4.6h-5.0zM534.5 208.3h5.0v4.6h-5.0zM597.9 208.3h5.0v4.6h-5.0zM412.4 212.7h5.0v4.6h-5.0zM461.2 212.7h5.0v4.6h-5.0zM539.3 212.7h5.0v4.6h-5.0zM422.2 217.2h5.0v4.6h-5.0zM480.8 217.2h5.0v4.6h-5.0zM558.9 221.6h5.0v4.6h-5.0zM417.3 235.0h5.0v4.6h-5.0zM495.4 239.4h5.0v4.6h-5.0z"/>
<path fill="#2d0000" d="M539.3 12.8h5.0v4.6h-5.0zM549.1 12.8h5.0v4.6h-5.0zM505.2 17.2h5.0v4.6h-5.0zM622.4 17.2h5.0v4.6h-5.0zM593.1 21.7h5.0v4.6h-5.0zM524.7 26.1h5.0v4.6h-5.0zM431.9 39.5h5.0v4.6h-5.0zM568.6 43.9h9.9v4.6h-9.9zM549.1 48.3h5.0v4.6h-5.0zM558.9 48.3h5.0v4.6h-5.0zM632.1 48.3h5.0v4.6h-5.0zM607.7 57.2h5.0v4.6h-5.0zM558.9 61.7h5.0v4.6h-5.0zM451.5 66.1h5.0v4.6h-5.0zM490.5 66.1h5.0v4.6h-5.0zM397.7 70.6h9.9v4.6h-9.9zM417.3 70.6h5.0v4.6h-5.0zM539.3 70.6h5.0v4.6h-5.0zM505.2 75.0h5.0v4.6h-5.0zM549.1 79.4h5.0v4.6h-5.0zM602.8 79.4h5.0v4.6h-5.0zM602.8 92.8h5.0v4.6h-5.0zM392.9 97.2h5.0v4.6h-5.0zM451.5 97.2h5.0v4.6h-5.0zM392.9 106.1h5.0v4.6h-5.0zM549.1 106.1h5.0v4.6h-5.0zM602.8 106.1h5.0v4.6h-5.0zM397.7 123.9h5.0v4.6h-5.0zM402.6 128.3h5.0v4.6h-5.0zM505.2 128.3h5.0v4.6h-5.0zM529.6 128.3h5.0v4.6h-5.0zM534.5 132.8h5.0v4.6h-5.0zM573.5 137.2h5.0v4.6h-5.0zM558.9 146.1h5.0v4.6h-5.0zM549.1 150.5h5.0v4.6h-5.0zM558.9 150.5h5.0v4.6h-5.0zM583.3 150.5h5.0v4.6h-5.0zM632.1 150.5h5.0v4.6h-5.0zM568.6 155.0h5.0v4.6h-5.0zM617.5 159.4h5.0v4.6h-5.0zM431.9 163.9h9.9v4.6h-9.9zM475.9 163.9h5.0v4.6h-5.0zM485.6 163.9h5.0v4.6h-5.0zM602.8 163.9h5.0v4.6h-5.0zM627.2 163.9h5.0v4.6h-5.0zM412.4 168.3h5.0v4.6h-5.0zM427.0 172.8h5.0v4.6h-5.0zM588.2 172.8h5.0v4.6h-5.0zM632.1 172.8h5.0v4.6h-5.0zM383.1 177.2h5.0v4.6h-5.0zM417.3 181.6h5.0v4.6h-5.0zM427.0 181.6h5.0v4.6h-5.0zM583.3 181.6h5.0v4.6h-5.0zM622.4 186.1h5.0v4.6h-5.0zM500.3 190.5h5.0v4.6h-5.0zM524.7 190.5h5.0v4.6h-5.0zM588.2 190.5h5.0v4.6h-5.0zM632.1 190.5h5.0v4.6h-5.0zM436.8 195.0h5.0v4.6h-5.0zM500.3 195.0h5.0v4.6h-5.0zM505.2 199.4h5.0v4.6h-5.0zM588.2 199.4h5.0v4.6h-5.0zM495.4 203.9h5.0v4.6h-5.0zM563.8 203.9h5.0v4.6h-5.0zM534.5 212.7h5.0v4.6h-5.0zM441.7 217.2h5.0v4.6h-5.0zM544.2 217.2h5.0v4.6h-5.0zM607.7 217.2h5.0v4.6h-5.0zM407.5 221.6h5.0v4.6h-5.0zM451.5 221.6h5.0v4.6h-5.0zM490.5 221.6h5.0v4.6h-5.0zM612.6 221.6h5.0v4.6h-5.0zM451.5 226.1h5.0v4.6h-5.0zM558.9 230.5h9.9v4.6h-9.9zM402.6 235.0h5.0v4.6h-5.0zM554.0 235.0h5.0v4.6h-5.0zM412.4 239.4h5.0v4.6h-5.0zM617.5 239.4h5.0v4.6h-5.0z"/>
<path fill="#2e0000" d="M524.7 17.2h9.9v4.6h-9.9zM529.6 21.7h5.0v4.6h-5.0zM622.4 21.7h5.0v4.6h-5.0zM451.5 35.0h5.0v4.6h-5.0zM417.3 43.9h5.0v4.6h-5.0zM441.7 43.9h5.0v4.6h-5.0zM549.1 43.9h5.0v4.6h-5.0zM475.9 52.8h5.0v4.6h-5.0zM554.0 57.2h5.0v4.6h-5.0zM383.1 70.6h5.0v4.6h-5.0zM392.9 75.0h5.0v4.6h-5.0zM417.3 75.0h5.0v4.6h-5.0zM617.5 75.0h9.9v4.6h-9.9zM397.7 79.4h5.0v4.6h-5.0zM417.3 79.4h5.0v4.6h-5.0zM612.6 79.4h5.0v4.6h-5.0zM607.7 83.9h5.0v4.6h-5.0zM632.1 83.9h5.0v4.6h-5.0zM485.6 88.3h5.0v4.6h-5.0zM544.2 88.3h5.0v4.6h-5.0zM558.9 88.3h5.0v4.6h-5.0zM456.3 92.8h5.0v4.6h-5.0zM485.6 92.8h5.0v4.6h-5.0zM392.9 101.7h5.0v4.6h-5.0zM549.1 101.7h5.0v4.6h-5.0zM495.4 106.1h5.0v4.6h-5.0zM392.9 110.6h5.0v4.6h-5.0zM563.8 110.6h5.0v4.6h-5.0zM549.1 128.3h5.0v4.6h-5.0zM563.8 128.3h5.0v4.6h-5.0zM392.9 132.8h5.0v4.6h-5.0zM451.5 132.8h5.0v4.6h-5.0zM554.0 137.2h5.0v4.6h-5.0zM397.7 146.1h5.0v4.6h-5.0zM554.0 146.1h5.0v4.6h-5.0zM573.5 146.1h5.0v4.6h-5.0zM588.2 146.1h5.0v4.6h-5.0zM422.2 150.5h5.0v4.6h-5.0zM573.5 150.5h5.0v4.6h-5.0zM612.6 150.5h5.0v4.6h-5.0zM412.4 155.0h5.0v4.6h-5.0zM417.3 159.4h5.0v4.6h-5.0zM578.4 159.4h5.0v4.6h-5.0zM593.1 159.4h5.0v4.6h-5.0zM622.4 159.4h5.0v4.6h-5.0zM407.5 163.9h5.0v4.6h-5.0zM597.9 163.9h5.0v4.6h-5.0zM427.0 168.3h5.0v4.6h-5.0zM578.4 168.3h5.0v4.6h-5.0zM383.1 172.8h5.0v4.6h-5.0zM485.6 172.8h5.0v4.6h-5.0zM402.6 177.2h5.0v4.6h-5.0zM495.4 177.2h5.0v4.6h-5.0zM392.9 181.6h5.0v4.6h-5.0zM568.6 186.1h5.0v4.6h-5.0zM554.0 190.5h5.0v4.6h-5.0zM412.4 199.4h5.0v4.6h-5.0zM495.4 199.4h5.0v4.6h-5.0zM524.7 199.4h5.0v4.6h-5.0zM593.1 199.4h5.0v4.6h-5.0zM632.1 199.4h5.0v4.6h-5.0zM593.1 203.9h5.0v4.6h-5.0zM500.3 208.3h5.0v4.6h-5.0zM558.9 208.3h5.0v4.6h-5.0zM593.1 208.3h5.0v4.6h-5.0zM632.1 208.3h5.0v4.6h-5.0zM427.0 212.7h5.0v4.6h-5.0zM554.0 212.7h5.0v4.6h-5.0zM407.5 217.2h5.0v4.6h-5.0zM446.6 217.2h5.0v4.6h-5.0zM593.1 217.2h5.0v4.6h-5.0zM627.2 217.2h5.0v4.6h-5.0zM436.8 221.6h5.0v4.6h-5.0zM407.5 226.1h5.0v4.6h-5.0zM593.1 226.1h5.0v4.6h-5.0zM612.6 226.1h5.0v4.6h-5.0zM397.7 230.5h5.0v4.6h-5.0zM456.3 230.5h5.0v4.6h-5.0zM471.0 230.5h5.0v4.6h-5.0zM554.0 230.5h5.0v4.6h-5.0zM622.4 239.4h5.0v4.6h-5.0z"/>
<path fill="#300000" d="M510.1 12.8h5.0v4.6h-5.0zM524.7 12.8h5.0v4.6h-5.0zM534.5 12.8h5.0v4.6h-5.0zM466.1 17.2h5.0v4.6h-5.0zM612.6 21.7h5.0v4.6h-5.0zM573.5 26.1h5.0v4.6h-5.0zM583.3 35.0h5.0v4.6h-5.0zM446.6 39.5h5.0v4.6h-5.0zM578.4 39.5h5.0v4.6h-5.0zM431.9 43.9h5.0v4.6h-5.0zM588.2 48.3h5.0v4.6h-5.0zM602.8 48.3h5.0v4.6h-5.0zM549.1 52.8h5.0v4.6h-5.0zM446.6 57.2h5.0v4.6h-5.0zM554.0 61.7h5.0v4.6h-5.0zM563.8 75.0h5.0v4.6h-5.0zM597.9 75.0h5.0v4.6h-5.0zM612.6 75.0h5.0v4.6h-5.0zM563.8 83.9h5.0v4.6h-5.0zM568.6 88.3h5.0v4.6h-5.0zM446.6 92.8h5.0v4.6h-5.0zM588.2 92.8h5.0v4.6h-5.0zM539.3 97.2h5.0v4.6h-5.0zM544.2 101.7h5.0v4.6h-5.0zM622.4 106.1h5.0v4.6h-5.0zM563.8 115.0h5.0v4.6h-5.0zM578.4 115.0h5.0v4.6h-5.0zM388.0 119.4h5.0v4.6h-5.0zM500.3 128.3h5.0v4.6h-5.0zM427.0 132.8h5.0v4.6h-5.0zM573.5 132.8h5.0v4.6h-5.0zM617.5 137.2h5.0v4.6h-5.0zM602.8 141.7h5.0v4.6h-5.0zM622.4 141.7h9.9v4.6h-9.9zM397.7 159.4h5.0v4.6h-5.0zM617.5 163.9h9.9v4.6h-9.9zM397.7 168.3h5.0v4.6h-5.0zM422.2 168.3h5.0v4.6h-5.0zM412.4 172.8h5.0v4.6h-5.0zM431.9 172.8h5.0v4.6h-5.0zM558.9 172.8h5.0v4.6h-5.0zM627.2 172.8h5.0v4.6h-5.0zM412.4 177.2h5.0v4.6h-5.0zM397.7 181.6h5.0v4.6h-5.0zM422.2 181.6h5.0v4.6h-5.0zM427.0 186.1h5.0v4.6h-5.0zM490.5 186.1h5.0v4.6h-5.0zM466.1 190.5h5.0v4.6h-5.0zM593.1 190.5h5.0v4.6h-5.0zM583.3 195.0h9.9v4.6h-9.9zM558.9 199.4h5.0v4.6h-5.0zM466.1 203.9h5.0v4.6h-5.0zM568.6 203.9h5.0v4.6h-5.0zM495.4 212.7h5.0v4.6h-5.0zM431.9 217.2h9.9v4.6h-9.9zM617.5 217.2h5.0v4.6h-5.0zM431.9 221.6h5.0v4.6h-5.0zM422.2 226.1h5.0v4.6h-5.0zM471.0 226.1h5.0v4.6h-5.0zM485.6 226.1h5.0v4.6h-5.0zM617.5 226.1h5.0v4.6h-5.0zM632.1 230.5h5.0v4.6h-5.0zM422.2 235.0h5.0v4.6h-5.0zM593.1 239.4h5.0v4.6h-5.0z"/>
<path fill="#310000" d="M514.9 30.6h5.0v4.6h-5.0zM578.4 30.6h5.0v4.6h-5.0zM539.3 43.9h5.0v4.6h-5.0zM612.6 52.8h5.0v4.6h-5.0zM407.5 57.2h5.0v4.6h-5.0zM632.1 70.6h5.0v4.6h-5.0zM383.1 75.0h5.0v4.6h-5.0zM407.5 79.4h5.0v4.6h-5.0zM388.0 83.9h5.0v4.6h-5.0zM485.6 83.9h5.0v4.6h-5.0zM500.3 83.9h5.0v4.6h-5.0zM402.6 92.8h5.0v4.6h-5.0zM627.2 92.8h5.0v4.6h-5.0zM563.8 97.2h9.9v4.6h-9.9zM554.0 101.7h5.0v4.6h-5.0zM563.8 101.7h5.0v4.6h-5.0zM617.5 101.7h5.0v4.6h-5.0zM388.0 106.1h5.0v4.6h-5.0zM544.2 106.1h5.0v4.6h-5.0zM568.6 106.1h5.0v4.6h-5.0zM617.5 106.1h5.0v4.6h-5.0zM578.4 110.6h5.0v4.6h-5.0zM397.7 128.3h5.0v4.6h-5.0zM578.4 128.3h5.0v4.6h-5.0zM397.7 132.8h5.0v4.6h-5.0zM431.9 132.8h5.0v4.6h-5.0zM485.6 132.8h5.0v4.6h-5.0zM558.9 137.2h5.0v4.6h-5.0zM397.7 141.7h9.9v4.6h-9.9zM417.3 141.7h5.0v4.6h-5.0zM563.8 141.7h5.0v4.6h-5.0zM632.1 146.1h5.0v4.6h-5.0zM563.8 150.5h5.0v4.6h-5.0zM607.7 150.5h5.0v4.6h-5.0zM383.1 155.0h5.0v4.6h-5.0zM422.2 159.4h5.0v4.6h-5.0zM554.0 159.4h5.0v4.6h-5.0zM392.9 163.9h5.0v4.6h-5.0zM471.0 163.9h5.0v4.6h-5.0zM490.5 163.9h5.0v4.6h-5.0zM554.0 163.9h5.0v4.6h-5.0zM490.5 168.3h5.0v4.6h-5.0zM544.2 168.3h5.0v4.6h-5.0zM402.6 172.8h5.0v4.6h-5.0zM622.4 172.8h5.0v4.6h-5.0zM388.0 177.2h5.0v4.6h-5.0zM588.2 186.1h9.9v4.6h-9.9zM431.9 190.5h5.0v4.6h-5.0zM568.6 190.5h5.0v4.6h-5.0zM402.6 195.0h5.0v4.6h-5.0zM461.2 195.0h5.0v4.6h-5.0zM397.7 199.4h5.0v4.6h-5.0zM500.3 199.4h5.0v4.6h-5.0zM514.9 199.4h5.0v4.6h-5.0zM412.4 203.9h5.0v4.6h-5.0zM558.9 203.9h5.0v4.6h-5.0zM427.0 217.2h5.0v4.6h-5.0zM627.2 221.6h5.0v4.6h-5.0zM417.3 226.1h5.0v4.6h-5.0zM622.4 235.0h5.0v4.6h-5.0z"/>
<path fill="#320000" d="M627.2 30.6h5.0v4.6h-5.0zM456.3 43.9h5.0v4.6h-5.0zM505.2 43.9h5.0v4.6h-5.0zM461.2 48.3h5.0v4.6h-5.0zM544.2 48.3h5.0v4.6h-5.0zM485.6 57.2h5.0v4.6h-5.0zM446.6 61.7h5.0v4.6h-5.0zM485.6 75.0h5.0v4.6h-5.0zM632.1 75.0h5.0v4.6h-5.0zM388.0 79.4h5.0v4.6h-5.0zM549.1 83.9h5.0v4.6h-5.0zM383.1 97.2h5.0v4.6h-5.0zM632.1 97.2h5.0v4.6h-5.0zM558.9 101.7h5.0v4.6h-5.0zM383.1 119.4h5.0v4.6h-5.0zM402.6 119.4h5.0v4.6h-5.0zM383.1 123.9h5.0v4.6h-5.0zM495.4 123.9h5.0v4.6h-5.0zM578.4 123.9h5.0v4.6h-5.0zM539.3 132.8h5.0v4.6h-5.0zM568.6 132.8h5.0v4.6h-5.0zM573.5 141.7h5.0v4.6h-5.0zM583.3 146.1h5.0v4.6h-5.0zM388.0 150.5h5.0v4.6h-5.0zM407.5 150.5h5.0v4.6h-5.0zM578.4 150.5h5.0v4.6h-5.0zM558.9 155.0h9.9v4.6h-9.9zM617.5 155.0h5.0v4.6h-5.0zM388.0 159.4h5.0v4.6h-5.0zM402.6 163.9h5.0v4.6h-5.0zM402.6 168.3h5.0v4.6h-5.0zM554.0 168.3h5.0v4.6h-5.0zM554.0 172.8h5.0v4.6h-5.0zM383.1 181.6h5.0v4.6h-5.0zM495.4 181.6h5.0v4.6h-5.0zM554.0 181.6h5.0v4.6h-5.0zM588.2 181.6h5.0v4.6h-5.0zM534.5 190.5h5.0v4.6h-5.0zM412.4 195.0h5.0v4.6h-5.0zM451.5 195.0h5.0v4.6h-5.0zM466.1 195.0h5.0v4.6h-5.0zM529.6 195.0h5.0v4.6h-5.0zM412.4 208.3h5.0v4.6h-5.0zM466.1 208.3h5.0v4.6h-5.0zM495.4 208.3h5.0v4.6h-5.0zM627.2 208.3h5.0v4.6h-5.0zM441.7 212.7h5.0v4.6h-5.0zM539.3 217.2h5.0v4.6h-5.0zM549.1 217.2h5.0v4.6h-5.0zM446.6 226.1h5.0v4.6h-5.0zM456.3 226.1h5.0v4.6h-5.0zM475.9 226.1h5.0v4.6h-5.0zM588.2 230.5h5.0v4.6h-5.0zM397.7 235.0h5.0v4.6h-5.0zM495.4 235.0h5.0v4.6h-5.0zM632.1 235.0h5.0v4.6h-5.0zM588.2 239.4h5.0v4.6h-5.0z"/>
<path fill="#340000" d="M519.8 12.8h5.0v4.6h-5.0zM617.5 21.7h5.0v4.6h-5.0zM627.2 26.1h9.9v4.6h-9.9zM632.1 39.5h5.0v4.6h-5.0zM583.3 48.3h5.0v4.6h-5.0zM480.8 57.2h5.0v4.6h-5.0zM461.2 66.1h5.0v4.6h-5.0zM568.6 66.1h5.0v4.6h-5.0zM480.8 70.6h5.0v4.6h-5.0zM554.0 75.0h5.0v4.6h-5.0zM602.8 75.0h5.0v4.6h-5.0zM383.1 79.4h5.0v4.6h-5.0zM383.1 92.8h5.0v4.6h-5.0zM558.9 92.8h5.0v4.6h-5.0zM495.4 101.7h5.0v4.6h-5.0zM568.6 101.7h5.0v4.6h-5.0zM539.3 106.1h5.0v4.6h-5.0zM500.3 110.6h5.0v4.6h-5.0zM383.1 115.0h24.6v4.6h-24.6zM388.0 123.9h5.0v4.6h-5.0zM388.0 128.3h5.0v4.6h-5.0zM593.1 128.3h5.0v4.6h-5.0zM446.6 132.8h5.0v4.6h-5.0zM588.2 132.8h5.0v4.6h-5.0zM383.1 137.2h5.0v4.6h-5.0zM593.1 137.2h5.0v4.6h-5.0zM407.5 141.7h5.0v4.6h-5.0zM549.1 146.1h5.0v4.6h-5.0zM627.2 146.1h5.0v4.6h-5.0zM602.8 150.5h5.0v4.6h-5.0zM402.6 155.0h5.0v4.6h-5.0zM383.1 159.4h5.0v4.6h-5.0zM402.6 159.4h5.0v4.6h-5.0zM383.1 163.9h5.0v4.6h-5.0zM422.2 163.9h5.0v4.6h-5.0zM461.2 163.9h5.0v4.6h-5.0zM480.8 163.9h5.0v4.6h-5.0zM568.6 163.9h5.0v4.6h-5.0zM578.4 163.9h5.0v4.6h-5.0zM612.6 168.3h5.0v4.6h-5.0zM573.5 172.8h5.0v4.6h-5.0zM407.5 181.6h5.0v4.6h-5.0zM383.1 186.1h5.0v4.6h-5.0zM383.1 190.5h5.0v4.6h-5.0zM558.9 190.5h5.0v4.6h-5.0zM583.3 190.5h5.0v4.6h-5.0zM397.7 195.0h5.0v4.6h-5.0zM524.7 195.0h5.0v4.6h-5.0zM466.1 199.4h5.0v4.6h-5.0zM588.2 203.9h5.0v4.6h-5.0zM383.1 208.3h5.0v4.6h-5.0zM495.4 217.2h5.0v4.6h-5.0zM417.3 221.6h5.0v4.6h-5.0zM617.5 221.6h5.0v4.6h-5.0zM466.1 226.1h5.0v4.6h-5.0zM563.8 226.1h5.0v4.6h-5.0zM622.4 226.1h5.0v4.6h-5.0zM402.6 230.5h5.0v4.6h-5.0zM422.2 230.5h5.0v4.6h-5.0zM607.7 230.5h5.0v4.6h-5.0zM617.5 235.0h5.0v4.6h-5.0zM451.5 239.4h5.0v4.6h-5.0z"/>
<path fill="#350000" d="M514.9 12.8h5.0v4.6h-5.0zM510.1 26.1h5.0v4.6h-5.0zM607.7 26.1h5.0v4.6h-5.0zM500.3 30.6h5.0v4.6h-5.0zM573.5 35.0h5.0v4.6h-5.0zM612.6 48.3h5.0v4.6h-5.0zM490.5 61.7h5.0v4.6h-5.0zM568.6 61.7h5.0v4.6h-5.0zM427.0 66.1h5.0v4.6h-5.0zM388.0 70.6h5.0v4.6h-5.0zM441.7 70.6h5.0v4.6h-5.0zM407.5 75.0h5.0v4.6h-5.0zM480.8 75.0h5.0v4.6h-5.0zM588.2 75.0h5.0v4.6h-5.0zM392.9 79.4h5.0v4.6h-5.0zM461.2 79.4h5.0v4.6h-5.0zM388.0 88.3h5.0v4.6h-5.0zM436.8 88.3h5.0v4.6h-5.0zM539.3 88.3h5.0v4.6h-5.0zM388.0 92.8h5.0v4.6h-5.0zM583.3 92.8h5.0v4.6h-5.0zM593.1 92.8h5.0v4.6h-5.0zM402.6 97.2h5.0v4.6h-5.0zM490.5 97.2h5.0v4.6h-5.0zM617.5 97.2h5.0v4.6h-5.0zM383.1 101.7h9.9v4.6h-9.9zM539.3 101.7h5.0v4.6h-5.0zM402.6 110.6h5.0v4.6h-5.0zM500.3 115.0h5.0v4.6h-5.0zM554.0 115.0h5.0v4.6h-5.0zM505.2 119.4h5.0v4.6h-5.0zM505.2 123.9h5.0v4.6h-5.0zM490.5 132.8h5.0v4.6h-5.0zM563.8 132.8h5.0v4.6h-5.0zM612.6 141.7h5.0v4.6h-5.0zM422.2 146.1h5.0v4.6h-5.0zM588.2 150.5h5.0v4.6h-5.0zM573.5 155.0h9.9v4.6h-9.9zM622.4 155.0h5.0v4.6h-5.0zM632.1 155.0h5.0v4.6h-5.0zM627.2 159.4h9.9v4.6h-9.9zM392.9 168.3h5.0v4.6h-5.0zM593.1 172.8h5.0v4.6h-5.0zM388.0 186.1h5.0v4.6h-5.0zM495.4 190.5h5.0v4.6h-5.0zM510.1 190.5h5.0v4.6h-5.0zM383.1 195.0h5.0v4.6h-5.0zM568.6 195.0h5.0v4.6h-5.0zM529.6 208.3h5.0v4.6h-5.0zM568.6 208.3h5.0v4.6h-5.0zM563.8 212.7h5.0v4.6h-5.0zM607.7 212.7h5.0v4.6h-5.0zM622.4 212.7h9.9v4.6h-9.9zM475.9 217.2h5.0v4.6h-5.0zM412.4 221.6h5.0v4.6h-5.0zM456.3 221.6h5.0v4.6h-5.0zM427.0 226.1h5.0v4.6h-5.0zM461.2 226.1h5.0v4.6h-5.0zM466.1 230.5h5.0v4.6h-5.0zM412.4 235.0h5.0v4.6h-5.0zM588.2 235.0h5.0v4.6h-5.0zM397.7 239.4h9.9v4.6h-9.9zM549.1 239.4h5.0v4.6h-5.0z"/>
<path fill="#360000" d="M461.2 17.2h5.0v4.6h-5.0zM578.4 21.7h5.0v4.6h-5.0zM510.1 30.6h5.0v4.6h-5.0zM539.3 30.6h5.0v4.6h-5.0zM495.4 39.5h5.0v4.6h-5.0zM544.2 39.5h5.0v4.6h-5.0zM583.3 39.5h5.0v4.6h-5.0zM627.2 39.5h5.0v4.6h-5.0zM617.5 48.3h5.0v4.6h-5.0zM402.6 52.8h5.0v4.6h-5.0zM480.8 66.1h5.0v4.6h-5.0zM461.2 75.0h5.0v4.6h-5.0zM402.6 79.4h5.0v4.6h-5.0zM563.8 79.4h5.0v4.6h-5.0zM392.9 83.9h5.0v4.6h-5.0zM602.8 83.9h5.0v4.6h-5.0zM617.5 83.9h5.0v4.6h-5.0zM490.5 88.3h5.0v4.6h-5.0zM505.2 92.8h5.0v4.6h-5.0zM539.3 92.8h5.0v4.6h-5.0zM549.1 92.8h5.0v4.6h-5.0zM456.3 97.2h5.0v4.6h-5.0zM597.9 97.2h5.0v4.6h-5.0zM563.8 106.1h5.0v4.6h-5.0zM632.1 106.1h5.0v4.6h-5.0zM549.1 110.6h5.0v4.6h-5.0zM573.5 110.6h5.0v4.6h-5.0zM622.4 110.6h5.0v4.6h-5.0zM568.6 115.0h5.0v4.6h-5.0zM466.1 128.3h5.0v4.6h-5.0zM588.2 128.3h5.0v4.6h-5.0zM456.3 132.8h5.0v4.6h-5.0zM583.3 137.2h5.0v4.6h-5.0zM568.6 141.7h5.0v4.6h-5.0zM383.1 146.1h5.0v4.6h-5.0zM627.2 155.0h5.0v4.6h-5.0zM412.4 163.9h5.0v4.6h-5.0zM451.5 163.9h5.0v4.6h-5.0zM549.1 163.9h5.0v4.6h-5.0zM563.8 163.9h5.0v4.6h-5.0zM407.5 168.3h5.0v4.6h-5.0zM431.9 168.3h5.0v4.6h-5.0zM392.9 172.8h5.0v4.6h-5.0zM568.6 177.2h5.0v4.6h-5.0zM597.9 177.2h5.0v4.6h-5.0zM529.6 181.6h5.0v4.6h-5.0zM563.8 181.6h5.0v4.6h-5.0zM441.7 195.0h5.0v4.6h-5.0zM514.9 195.0h5.0v4.6h-5.0zM510.1 199.4h5.0v4.6h-5.0zM451.5 212.7h5.0v4.6h-5.0zM593.1 212.7h5.0v4.6h-5.0zM466.1 221.6h9.9v4.6h-9.9zM480.8 221.6h5.0v4.6h-5.0zM412.4 226.1h5.0v4.6h-5.0zM607.7 226.1h5.0v4.6h-5.0zM593.1 235.0h5.0v4.6h-5.0zM558.9 239.4h5.0v4.6h-5.0z"/>
<path fill="#380000" d="M500.3 12.8h5.0v4.6h-5.0zM583.3 17.2h5.0v4.6h-5.0zM514.9 21.7h9.9v4.6h-9.9zM607.7 21.7h5.0v4.6h-5.0zM461.2 26.1h5.0v4.6h-5.0zM383.1 39.5h5.0v4.6h-5.0zM549.1 39.5h5.0v4.6h-5.0zM554.0 43.9h5.0v4.6h-5.0zM407.5 48.3h5.0v4.6h-5.0zM568.6 48.3h5.0v4.6h-5.0zM554.0 52.8h5.0v4.6h-5.0zM563.8 52.8h5.0v4.6h-5.0zM622.4 52.8h5.0v4.6h-5.0zM417.3 61.7h5.0v4.6h-5.0zM485.6 70.6h5.0v4.6h-5.0zM558.9 75.0h5.0v4.6h-5.0zM568.6 75.0h5.0v4.6h-5.0zM593.1 75.0h5.0v4.6h-5.0zM500.3 79.4h5.0v4.6h-5.0zM607.7 79.4h5.0v4.6h-5.0zM617.5 79.4h5.0v4.6h-5.0zM490.5 92.8h5.0v4.6h-5.0zM554.0 92.8h5.0v4.6h-5.0zM607.7 92.8h5.0v4.6h-5.0zM549.1 97.2h5.0v4.6h-5.0zM397.7 101.7h5.0v4.6h-5.0zM471.0 101.7h5.0v4.6h-5.0zM607.7 101.7h5.0v4.6h-5.0zM383.1 106.1h5.0v4.6h-5.0zM534.5 106.1h5.0v4.6h-5.0zM490.5 110.6h5.0v4.6h-5.0zM554.0 110.6h5.0v4.6h-5.0zM568.6 110.6h5.0v4.6h-5.0zM617.5 110.6h5.0v4.6h-5.0zM622.4 115.0h5.0v4.6h-5.0zM397.7 119.4h5.0v4.6h-5.0zM402.6 123.9h9.9v4.6h-9.9zM617.5 123.9h5.0v4.6h-5.0zM412.4 128.3h5.0v4.6h-5.0zM568.6 128.3h5.0v4.6h-5.0zM407.5 132.8h5.0v4.6h-5.0zM578.4 137.2h5.0v4.6h-5.0zM563.8 146.1h5.0v4.6h-5.0zM593.1 146.1h5.0v4.6h-5.0zM622.4 146.1h5.0v4.6h-5.0zM490.5 155.0h5.0v4.6h-5.0zM597.9 155.0h5.0v4.6h-5.0zM388.0 163.9h5.0v4.6h-5.0zM466.1 163.9h5.0v4.6h-5.0zM573.5 163.9h5.0v4.6h-5.0zM607.7 168.3h5.0v4.6h-5.0zM632.1 168.3h5.0v4.6h-5.0zM388.0 172.8h5.0v4.6h-5.0zM417.3 172.8h5.0v4.6h-5.0zM500.3 172.8h5.0v4.6h-5.0zM475.9 177.2h5.0v4.6h-5.0zM514.9 177.2h5.0v4.6h-5.0zM558.9 177.2h5.0v4.6h-5.0zM583.3 177.2h5.0v4.6h-5.0zM534.5 186.1h5.0v4.6h-5.0zM563.8 186.1h5.0v4.6h-5.0zM422.2 190.5h5.0v4.6h-5.0zM388.0 195.0h5.0v4.6h-5.0zM632.1 195.0h5.0v4.6h-5.0zM451.5 199.4h5.0v4.6h-5.0zM627.2 203.9h5.0v4.6h-5.0zM607.7 208.3h5.0v4.6h-5.0zM446.6 212.7h5.0v4.6h-5.0zM451.5 217.2h14.8v4.6h-14.8zM593.1 221.6h5.0v4.6h-5.0zM441.7 226.1h5.0v4.6h-5.0zM490.5 226.1h5.0v4.6h-5.0zM558.9 226.1h5.0v4.6h-5.0z"/>
<path fill="#390000" d="M578.4 17.2h5.0v4.6h-5.0zM578.4 26.1h5.0v4.6h-5.0zM383.1 35.0h5.0v4.6h-5.0zM446.6 35.0h5.0v4.6h-5.0zM549.1 35.0h5.0v4.6h-5.0zM578.4 35.0h5.0v4.6h-5.0zM490.5 39.5h5.0v4.6h-5.0zM446.6 43.9h5.0v4.6h-5.0zM534.5 43.9h5.0v4.6h-5.0zM578.4 43.9h5.0v4.6h-5.0zM431.9 48.3h5.0v4.6h-5.0zM588.2 52.8h5.0v4.6h-5.0zM617.5 52.8h5.0v4.6h-5.0zM607.7 61.7h5.0v4.6h-5.0zM475.9 66.1h5.0v4.6h-5.0zM583.3 66.1h5.0v4.6h-5.0zM475.9 70.6h5.0v4.6h-5.0zM568.6 79.4h5.0v4.6h-5.0zM417.3 83.9h5.0v4.6h-5.0zM554.0 83.9h5.0v4.6h-5.0zM466.1 88.3h5.0v4.6h-5.0zM554.0 88.3h5.0v4.6h-5.0zM461.2 92.8h5.0v4.6h-5.0zM397.7 97.2h5.0v4.6h-5.0zM407.5 97.2h5.0v4.6h-5.0zM544.2 97.2h5.0v4.6h-5.0zM534.5 101.7h5.0v4.6h-5.0zM402.6 106.1h5.0v4.6h-5.0zM597.9 106.1h5.0v4.6h-5.0zM544.2 110.6h5.0v4.6h-5.0zM597.9 110.6h5.0v4.6h-5.0zM593.1 115.0h5.0v4.6h-5.0zM554.0 128.3h5.0v4.6h-5.0zM441.7 132.8h5.0v4.6h-5.0zM529.6 132.8h5.0v4.6h-5.0zM578.4 132.8h5.0v4.6h-5.0zM412.4 137.2h5.0v4.6h-5.0zM471.0 137.2h9.9v4.6h-9.9zM485.6 137.2h5.0v4.6h-5.0zM563.8 137.2h5.0v4.6h-5.0zM412.4 141.7h5.0v4.6h-5.0zM554.0 141.7h5.0v4.6h-5.0zM407.5 146.1h5.0v4.6h-5.0zM417.3 146.1h5.0v4.6h-5.0zM568.6 146.1h5.0v4.6h-5.0zM383.1 150.5h5.0v4.6h-5.0zM622.4 150.5h5.0v4.6h-5.0zM388.0 155.0h5.0v4.6h-5.0zM407.5 155.0h5.0v4.6h-5.0zM549.1 155.0h5.0v4.6h-5.0zM602.8 155.0h5.0v4.6h-5.0zM612.6 159.4h5.0v4.6h-5.0zM612.6 163.9h5.0v4.6h-5.0zM388.0 168.3h5.0v4.6h-5.0zM461.2 168.3h5.0v4.6h-5.0zM495.4 168.3h5.0v4.6h-5.0zM573.5 168.3h5.0v4.6h-5.0zM588.2 168.3h5.0v4.6h-5.0zM397.7 172.8h5.0v4.6h-5.0zM422.2 172.8h5.0v4.6h-5.0zM466.1 177.2h5.0v4.6h-5.0zM490.5 177.2h5.0v4.6h-5.0zM554.0 177.2h5.0v4.6h-5.0zM431.9 181.6h5.0v4.6h-5.0zM485.6 181.6h5.0v4.6h-5.0zM568.6 181.6h5.0v4.6h-5.0zM392.9 186.1h9.9v4.6h-9.9zM388.0 190.5h9.9v4.6h-9.9zM446.6 190.5h5.0v4.6h-5.0zM627.2 190.5h5.0v4.6h-5.0zM431.9 195.0h5.0v4.6h-5.0zM485.6 195.0h9.9v4.6h-9.9zM563.8 199.4h5.0v4.6h-5.0zM471.0 203.9h5.0v4.6h-5.0zM554.0 208.3h5.0v4.6h-5.0zM597.9 212.7h5.0v4.6h-5.0zM622.4 221.6h5.0v4.6h-5.0zM549.1 226.1h5.0v4.6h-5.0zM412.4 230.5h5.0v4.6h-5.0zM593.1 230.5h5.0v4.6h-5.0zM558.9 235.0h5.0v4.6h-5.0zM407.5 239.4h5.0v4.6h-5.0z"/>
<path fill="#3a0000" d="M622.4 43.9h5.0v4.6h-5.0zM417.3 52.8h5.0v4.6h-5.0zM578.4 61.7h5.0v4.6h-5.0zM632.1 61.7h5.0v4.6h-5.0zM563.8 70.6h5.0v4.6h-5.0zM607.7 70.6h5.0v4.6h-5.0zM397.7 75.0h5.0v4.6h-5.0zM558.9 79.4h5.0v4.6h-5.0zM612.6 92.8h5.0v4.6h-5.0zM485.6 101.7h5.0v4.6h-5.0zM583.3 115.0h5.0v4.6h-5.0zM485.6 128.3h5.0v4.6h-5.0zM622.4 132.8h5.0v4.6h-5.0zM397.7 137.2h5.0v4.6h-5.0zM597.9 137.2h5.0v4.6h-5.0zM417.3 155.0h5.0v4.6h-5.0zM544.2 159.4h5.0v4.6h-5.0zM441.7 163.9h5.0v4.6h-5.0zM602.8 172.8h5.0v4.6h-5.0zM485.6 177.2h5.0v4.6h-5.0zM412.4 181.6h5.0v4.6h-5.0zM632.1 186.1h5.0v4.6h-5.0zM407.5 190.5h5.0v4.6h-5.0zM597.9 199.4h5.0v4.6h-5.0zM402.6 203.9h5.0v4.6h-5.0zM622.4 203.9h5.0v4.6h-5.0zM480.8 208.3h5.0v4.6h-5.0zM402.6 221.6h5.0v4.6h-5.0z"/>
<path fill="#3c0000" d="M627.2 21.7h5.0v4.6h-5.0zM583.3 43.9h5.0v4.6h-5.0zM632.1 57.2h5.0v4.6h-5.0zM422.2 61.7h5.0v4.6h-5.0zM441.7 66.1h5.0v4.6h-5.0zM578.4 66.1h5.0v4.6h-5.0zM534.5 70.6h5.0v4.6h-5.0zM480.8 92.8h5.0v4.6h-5.0zM471.0 97.2h5.0v4.6h-5.0zM588.2 97.2h5.0v4.6h-5.0zM471.0 106.1h9.9v4.6h-9.9zM485.6 106.1h5.0v4.6h-5.0zM578.4 106.1h5.0v4.6h-5.0zM480.8 110.6h5.0v4.6h-5.0zM588.2 119.4h5.0v4.6h-5.0zM480.8 132.8h5.0v4.6h-5.0zM554.0 132.8h5.0v4.6h-5.0zM495.4 159.4h5.0v4.6h-5.0zM617.5 177.2h5.0v4.6h-5.0zM534.5 181.6h5.0v4.6h-5.0zM597.9 181.6h5.0v4.6h-5.0zM510.1 203.9h5.0v4.6h-5.0zM554.0 221.6h5.0v4.6h-5.0z"/>
<path fill="#3d0000" d="M617.5 12.8h5.0v4.6h-5.0zM475.9 75.0h5.0v4.6h-5.0zM475.9 110.6h5.0v4.6h-5.0zM597.9 115.0h5.0v4.6h-5.0zM471.0 123.9h5.0v4.6h-5.0zM607.7 172.8h5.0v4.6h-5.0zM539.3 177.2h5.0v4.6h-5.0zM612.6 177.2h5.0v4.6h-5.0zM480.8 181.6h5.0v4.6h-5.0zM451.5 186.1h5.0v4.6h-5.0zM602.8 208.3h5.0v4.6h-5.0zM480.8 212.7h5.0v4.6h-5.0zM534.5 221.6h5.0v4.6h-5.0zM554.0 226.1h5.0v4.6h-5.0z"/>
<path fill="#3f0000" d="M392.9 43.9h5.0v4.6h-5.0zM622.4 57.2h5.0v4.6h-5.0zM597.9 70.6h5.0v4.6h-5.0zM480.8 79.4h5.0v4.6h-5.0zM471.0 83.9h5.0v4.6h-5.0zM422.2 88.3h5.0v4.6h-5.0zM593.1 106.1h5.0v4.6h-5.0zM588.2 115.0h5.0v4.6h-5.0zM480.8 119.4h5.0v4.6h-5.0zM490.5 119.4h9.9v4.6h-9.9zM558.9 128.3h5.0v4.6h-5.0zM392.9 137.2h5.0v4.6h-5.0zM500.3 168.3h5.0v4.6h-5.0zM446.6 172.8h5.0v4.6h-5.0zM461.2 172.8h5.0v4.6h-5.0zM441.7 190.5h5.0v4.6h-5.0zM480.8 190.5h5.0v4.6h-5.0zM597.9 203.9h5.0v4.6h-5.0zM607.7 203.9h5.0v4.6h-5.0zM612.6 212.7h5.0v4.6h-5.0zM466.1 217.2h5.0v4.6h-5.0z"/>
<path fill="#400000" d="M573.5 12.8h5.0v4.6h-5.0zM588.2 17.2h5.0v4.6h-5.0zM505.2 21.7h5.0v4.6h-5.0zM588.2 57.2h5.0v4.6h-5.0zM451.5 61.7h5.0v4.6h-5.0zM436.8 70.6h5.0v4.6h-5.0zM471.0 75.0h5.0v4.6h-5.0zM402.6 88.3h5.0v4.6h-5.0zM485.6 97.2h5.0v4.6h-5.0zM588.2 110.6h9.9v4.6h-9.9zM480.8 115.0h5.0v4.6h-5.0zM583.3 123.9h5.0v4.6h-5.0zM593.1 123.9h5.0v4.6h-5.0zM607.7 137.2h5.0v4.6h-5.0zM597.9 190.5h5.0v4.6h-5.0zM485.6 203.9h5.0v4.6h-5.0zM402.6 208.3h5.0v4.6h-5.0zM622.4 208.3h5.0v4.6h-5.0zM402.6 217.2h5.0v4.6h-5.0z"/>
<path fill="#410000" d="M505.2 26.1h5.0v4.6h-5.0zM519.8 30.6h5.0v4.6h-5.0zM593.1 52.8h5.0v4.6h-5.0zM627.2 57.2h5.0v4.6h-5.0zM505.2 88.3h5.0v4.6h-5.0zM524.7 92.8h5.0v4.6h-5.0zM593.1 97.2h5.0v4.6h-5.0zM451.5 101.7h5.0v4.6h-5.0zM490.5 101.7h5.0v4.6h-5.0zM583.3 106.1h5.0v4.6h-5.0zM617.5 181.6h5.0v4.6h-5.0zM617.5 186.1h5.0v4.6h-5.0zM475.9 190.5h5.0v4.6h-5.0zM485.6 208.3h5.0v4.6h-5.0zM558.9 212.7h5.0v4.6h-5.0zM612.6 217.2h5.0v4.6h-5.0zM392.9 235.0h5.0v4.6h-5.0z"/>
<path fill="#430000" d="M632.1 21.7h5.0v4.6h-5.0zM505.2 35.0h5.0v4.6h-5.0zM471.0 52.8h5.0v4.6h-5.0zM456.3 101.7h5.0v4.6h-5.0zM607.7 106.1h5.0v4.6h-5.0zM417.3 128.3h5.0v4.6h-5.0zM471.0 177.2h5.0v4.6h-5.0zM510.1 195.0h5.0v4.6h-5.0zM475.9 203.9h5.0v4.6h-5.0zM495.4 230.5h5.0v4.6h-5.0z"/>
<path fill="#440000" d="M578.4 48.3h5.0v4.6h-5.0zM627.2 52.8h5.0v4.6h-5.0zM627.2 66.1h5.0v4.6h-5.0zM461.2 70.6h5.0v4.6h-5.0zM529.6 70.6h5.0v4.6h-5.0zM466.1 97.2h5.0v4.6h-5.0zM480.8 101.7h5.0v4.6h-5.0zM480.8 106.1h5.0v4.6h-5.0zM534.5 137.2h5.0v4.6h-5.0zM471.0 195.0h5.0v4.6h-5.0zM402.6 199.4h5.0v4.6h-5.0zM397.7 203.9h5.0v4.6h-5.0zM407.5 208.3h5.0v4.6h-5.0zM529.6 212.7h5.0v4.6h-5.0zM617.5 212.7h5.0v4.6h-5.0z"/>
<path fill="#450000" d="M632.1 12.8h5.0v4.6h-5.0zM632.1 17.2h5.0v4.6h-5.0zM578.4 57.2h5.0v4.6h-5.0zM471.0 61.7h5.0v4.6h-5.0zM622.4 66.1h5.0v4.6h-5.0zM632.1 66.1h5.0v4.6h-5.0zM475.9 79.4h5.0v4.6h-5.0zM417.3 88.3h5.0v4.6h-5.0zM534.5 92.8h5.0v4.6h-5.0zM407.5 101.7h5.0v4.6h-5.0zM578.4 101.7h5.0v4.6h-5.0zM588.2 101.7h5.0v4.6h-5.0zM612.6 101.7h5.0v4.6h-5.0zM617.5 115.0h5.0v4.6h-5.0zM597.9 119.4h5.0v4.6h-5.0zM412.4 123.9h5.0v4.6h-5.0zM505.2 132.8h5.0v4.6h-5.0zM475.9 181.6h5.0v4.6h-5.0zM436.8 186.1h5.0v4.6h-5.0zM597.9 186.1h5.0v4.6h-5.0zM407.5 199.4h5.0v4.6h-5.0zM471.0 212.7h5.0v4.6h-5.0z"/>
<path fill="#470000" d="M578.4 52.8h5.0v4.6h-5.0zM617.5 57.2h5.0v4.6h-5.0zM402.6 83.9h5.0v4.6h-5.0zM480.8 83.9h5.0v4.6h-5.0zM461.2 128.3h5.0v4.6h-5.0zM480.8 195.0h5.0v4.6h-5.0zM485.6 199.4h5.0v4.6h-5.0zM407.5 203.9h5.0v4.6h-5.0zM490.5 212.7h5.0v4.6h-5.0zM485.6 217.2h5.0v4.6h-5.0z"/>
<path fill="#480000" d="M500.3 26.1h5.0v4.6h-5.0zM524.7 30.6h5.0v4.6h-5.0zM510.1 43.9h5.0v4.6h-5.0zM593.1 48.3h5.0v4.6h-5.0zM627.2 48.3h5.0v4.6h-5.0zM475.9 61.7h5.0v4.6h-5.0zM466.1 75.0h5.0v4.6h-5.0zM471.0 92.8h5.0v4.6h-5.0zM446.6 97.2h5.0v4.6h-5.0zM475.9 97.2h5.0v4.6h-5.0zM597.9 101.7h5.0v4.6h-5.0zM480.8 123.9h5.0v4.6h-5.0zM456.3 128.3h5.0v4.6h-5.0zM490.5 128.3h5.0v4.6h-5.0zM471.0 168.3h5.0v4.6h-5.0zM612.6 181.6h5.0v4.6h-5.0z"/>
<path fill="#490000" d="M466.1 52.8h5.0v4.6h-5.0zM583.3 61.7h5.0v4.6h-5.0zM514.9 70.6h5.0v4.6h-5.0zM539.3 83.9h5.0v4.6h-5.0zM427.0 88.3h5.0v4.6h-5.0zM466.1 123.9h5.0v4.6h-5.0zM490.5 141.7h5.0v4.6h-5.0zM480.8 177.2h5.0v4.6h-5.0zM471.0 181.6h5.0v4.6h-5.0zM485.6 190.5h5.0v4.6h-5.0zM617.5 208.3h5.0v4.6h-5.0zM397.7 217.2h5.0v4.6h-5.0zM549.1 230.5h5.0v4.6h-5.0z"/>
<path fill="#4b0000" d="M529.6 30.6h5.0v4.6h-5.0zM578.4 97.2h5.0v4.6h-5.0zM407.5 119.4h5.0v4.6h-5.0zM485.6 123.9h5.0v4.6h-5.0zM597.9 128.3h5.0v4.6h-5.0zM597.9 132.8h5.0v4.6h-5.0zM612.6 137.2h5.0v4.6h-5.0zM544.2 221.6h5.0v4.6h-5.0z"/>
<path fill="#4c0000" d="M612.6 17.2h5.0v4.6h-5.0zM417.3 57.2h5.0v4.6h-5.0zM627.2 61.7h5.0v4.6h-5.0zM417.3 66.1h5.0v4.6h-5.0zM412.4 70.6h5.0v4.6h-5.0zM617.5 70.6h5.0v4.6h-5.0zM539.3 79.4h5.0v4.6h-5.0zM407.5 88.3h5.0v4.6h-5.0zM441.7 92.8h5.0v4.6h-5.0zM475.9 92.8h5.0v4.6h-5.0zM475.9 101.7h5.0v4.6h-5.0zM583.3 110.6h5.0v4.6h-5.0zM583.3 119.4h5.0v4.6h-5.0zM461.2 132.8h5.0v4.6h-5.0zM495.4 163.9h5.0v4.6h-5.0zM471.0 172.8h5.0v4.6h-5.0zM505.2 172.8h5.0v4.6h-5.0zM436.8 177.2h5.0v4.6h-5.0zM602.8 177.2h5.0v4.6h-5.0zM622.4 195.0h5.0v4.6h-5.0zM392.9 212.7h5.0v4.6h-5.0zM471.0 217.2h5.0v4.6h-5.0zM558.9 217.2h5.0v4.6h-5.0z"/>
<path fill="#4e0000" d="M505.2 39.5h5.0v4.6h-5.0zM514.9 43.9h5.0v4.6h-5.0zM524.7 43.9h5.0v4.6h-5.0zM407.5 52.8h5.0v4.6h-5.0zM461.2 61.7h5.0v4.6h-5.0zM573.5 61.7h5.0v4.6h-5.0zM422.2 66.1h5.0v4.6h-5.0zM471.0 88.3h5.0v4.6h-5.0zM524.7 88.3h5.0v4.6h-5.0zM510.1 92.8h5.0v4.6h-5.0zM612.6 106.1h5.0v4.6h-5.0zM388.0 146.1h5.0v4.6h-5.0zM446.6 168.3h5.0v4.6h-5.0zM612.6 172.8h5.0v4.6h-5.0zM475.9 186.1h5.0v4.6h-5.0zM397.7 221.6h5.0v4.6h-5.0z"/>
<path fill="#4f0000" d="M622.4 12.8h5.0v4.6h-5.0zM392.9 39.5h5.0v4.6h-5.0zM471.0 70.6h5.0v4.6h-5.0zM583.3 101.7h5.0v4.6h-5.0zM588.2 106.1h5.0v4.6h-5.0zM475.9 115.0h5.0v4.6h-5.0zM549.1 141.7h5.0v4.6h-5.0zM475.9 168.3h5.0v4.6h-5.0zM480.8 172.8h5.0v4.6h-5.0zM485.6 186.1h5.0v4.6h-5.0zM461.2 190.5h5.0v4.6h-5.0zM519.8 190.5h5.0v4.6h-5.0zM475.9 195.0h5.0v4.6h-5.0zM524.7 203.9h5.0v4.6h-5.0zM392.9 208.3h5.0v4.6h-5.0zM505.2 208.3h5.0v4.6h-5.0zM485.6 212.7h5.0v4.6h-5.0zM500.3 217.2h5.0v4.6h-5.0z"/>
<path fill="#500000" d="M427.0 61.7h5.0v4.6h-5.0zM539.3 75.0h5.0v4.6h-5.0zM480.8 88.3h5.0v4.6h-5.0zM466.1 92.8h5.0v4.6h-5.0zM490.5 106.1h5.0v4.6h-5.0zM407.5 110.6h5.0v4.6h-5.0zM407.5 115.0h5.0v4.6h-5.0zM490.5 115.0h5.0v4.6h-5.0zM475.9 132.8h5.0v4.6h-5.0zM495.4 132.8h5.0v4.6h-5.0zM466.1 172.8h5.0v4.6h-5.0zM471.0 190.5h5.0v4.6h-5.0zM480.8 203.9h5.0v4.6h-5.0z"/>
<path fill="#520000" d="M524.7 70.6h5.0v4.6h-5.0zM475.9 83.9h5.0v4.6h-5.0zM475.9 88.3h5.0v4.6h-5.0zM485.6 110.6h5.0v4.6h-5.0zM485.6 115.0h5.0v4.6h-5.0zM485.6 119.4h5.0v4.6h-5.0zM466.1 132.8h5.0v4.6h-5.0zM446.6 163.9h5.0v4.6h-5.0zM524.7 172.8h5.0v4.6h-5.0zM461.2 186.1h5.0v4.6h-5.0zM475.9 199.4h9.9v4.6h-9.9zM402.6 212.7h5.0v4.6h-5.0zM500.3 212.7h5.0v4.6h-5.0z"/>
<path fill="#530000" d="M388.0 39.5h5.0v4.6h-5.0zM475.9 57.2h5.0v4.6h-5.0zM456.3 61.7h5.0v4.6h-5.0zM466.1 61.7h5.0v4.6h-5.0zM495.4 115.0h5.0v4.6h-5.0zM617.5 119.4h5.0v4.6h-5.0zM475.9 123.9h5.0v4.6h-5.0zM495.4 128.3h5.0v4.6h-5.0zM471.0 132.8h5.0v4.6h-5.0zM441.7 168.3h5.0v4.6h-5.0zM466.1 168.3h5.0v4.6h-5.0zM519.8 177.2h5.0v4.6h-5.0zM436.8 181.6h5.0v4.6h-5.0zM466.1 186.1h5.0v4.6h-5.0zM597.9 195.0h5.0v4.6h-5.0zM490.5 208.3h5.0v4.6h-5.0zM490.5 217.2h5.0v4.6h-5.0zM392.9 239.4h5.0v4.6h-5.0z"/>
<path fill="#540000" d="M500.3 35.0h5.0v4.6h-5.0zM436.8 48.3h5.0v4.6h-5.0zM422.2 57.2h5.0v4.6h-5.0zM407.5 92.8h5.0v4.6h-5.0zM602.8 110.6h5.0v4.6h-5.0zM583.3 128.3h5.0v4.6h-5.0zM500.3 132.8h5.0v4.6h-5.0zM558.9 132.8h5.0v4.6h-5.0zM612.6 132.8h5.0v4.6h-5.0zM436.8 168.3h5.0v4.6h-5.0zM480.8 168.3h5.0v4.6h-5.0zM475.9 172.8h5.0v4.6h-5.0zM480.8 186.1h5.0v4.6h-5.0zM622.4 190.5h5.0v4.6h-5.0zM505.2 195.0h5.0v4.6h-5.0zM475.9 208.3h5.0v4.6h-5.0zM392.9 221.6h5.0v4.6h-5.0zM495.4 226.1h5.0v4.6h-5.0zM549.1 235.0h5.0v4.6h-5.0z"/>
<path fill="#560000" d="M500.3 21.7h5.0v4.6h-5.0zM417.3 48.3h5.0v4.6h-5.0zM427.0 48.3h5.0v4.6h-5.0zM602.8 52.8h5.0v4.6h-5.0zM622.4 61.7h5.0v4.6h-5.0zM471.0 79.4h5.0v4.6h-5.0zM627.2 83.9h5.0v4.6h-5.0zM480.8 97.2h5.0v4.6h-5.0zM593.1 101.7h5.0v4.6h-5.0zM407.5 106.1h5.0v4.6h-5.0zM588.2 123.9h5.0v4.6h-5.0zM436.8 132.8h5.0v4.6h-5.0zM490.5 137.2h5.0v4.6h-5.0zM602.8 137.2h5.0v4.6h-5.0zM466.1 181.6h5.0v4.6h-5.0zM471.0 186.1h5.0v4.6h-5.0zM456.3 199.4h5.0v4.6h-5.0zM622.4 199.4h5.0v4.6h-5.0zM490.5 203.9h5.0v4.6h-5.0zM397.7 208.3h5.0v4.6h-5.0zM397.7 212.7h5.0v4.6h-5.0zM475.9 212.7h5.0v4.6h-5.0zM388.0 217.2h5.0v4.6h-5.0zM392.9 230.5h5.0v4.6h-5.0zM500.3 239.4h5.0v4.6h-5.0z"/>
<path fill="#570000" d="M466.1 79.4h5.0v4.6h-5.0zM407.5 83.9h5.0v4.6h-5.0zM583.3 97.2h5.0v4.6h-5.0zM612.6 110.6h5.0v4.6h-5.0zM593.1 119.4h5.0v4.6h-5.0zM597.9 123.9h5.0v4.6h-5.0zM602.8 181.6h5.0v4.6h-5.0zM490.5 199.4h5.0v4.6h-5.0z"/>
<path fill="#810000" d="M534.5 39.5h5.0v4.6h-5.0zM422.2 52.8h5.0v4.6h-5.0zM436.8 52.8h5.0v4.6h-5.0zM573.5 52.8h5.0v4.6h-5.0zM461.2 57.2h5.0v4.6h-5.0zM471.0 57.2h5.0v4.6h-5.0zM602.8 61.7h5.0v4.6h-5.0zM612.6 61.7h5.0v4.6h-5.0zM588.2 66.1h5.0v4.6h-5.0zM612.6 70.6h5.0v4.6h-5.0zM514.9 75.0h14.8v4.6h-14.8zM510.1 79.4h9.9v4.6h-9.9zM534.5 79.4h5.0v4.6h-5.0zM412.4 83.9h5.0v4.6h-5.0zM510.1 83.9h5.0v4.6h-5.0zM534.5 83.9h5.0v4.6h-5.0zM412.4 88.3h5.0v4.6h-5.0zM510.1 88.3h5.0v4.6h-5.0zM529.6 88.3h9.9v4.6h-9.9zM436.8 92.8h5.0v4.6h-5.0zM417.3 97.2h5.0v4.6h-5.0zM441.7 97.2h5.0v4.6h-5.0zM514.9 97.2h5.0v4.6h-5.0zM417.3 101.7h5.0v4.6h-5.0zM607.7 110.6h5.0v4.6h-5.0zM417.3 115.0h5.0v4.6h-5.0zM602.8 115.0h5.0v4.6h-5.0zM417.3 119.4h5.0v4.6h-5.0zM466.1 119.4h5.0v4.6h-5.0zM602.8 119.4h5.0v4.6h-5.0zM461.2 123.9h5.0v4.6h-5.0zM427.0 128.3h5.0v4.6h-5.0zM446.6 128.3h5.0v4.6h-5.0zM471.0 128.3h5.0v4.6h-5.0zM480.8 128.3h5.0v4.6h-5.0zM519.8 128.3h5.0v4.6h-5.0zM388.0 137.2h5.0v4.6h-5.0zM529.6 137.2h5.0v4.6h-5.0zM544.2 137.2h5.0v4.6h-5.0zM392.9 146.1h5.0v4.6h-5.0zM495.4 146.1h5.0v4.6h-5.0zM495.4 155.0h5.0v4.6h-5.0zM544.2 155.0h5.0v4.6h-5.0zM524.7 163.9h5.0v4.6h-5.0zM539.3 168.3h5.0v4.6h-5.0zM456.3 177.2h5.0v4.6h-5.0zM607.7 177.2h5.0v4.6h-5.0zM446.6 181.6h5.0v4.6h-5.0zM456.3 186.1h5.0v4.6h-5.0zM612.6 190.5h5.0v4.6h-5.0zM519.8 195.0h5.0v4.6h-5.0zM607.7 199.4h5.0v4.6h-5.0zM617.5 199.4h5.0v4.6h-5.0zM602.8 203.9h5.0v4.6h-5.0zM514.9 208.3h5.0v4.6h-5.0zM612.6 208.3h5.0v4.6h-5.0zM505.2 217.2h5.0v4.6h-5.0zM383.1 221.6h5.0v4.6h-5.0zM505.2 221.6h5.0v4.6h-5.0zM383.1 226.1h9.9v4.6h-9.9zM505.2 226.1h5.0v4.6h-5.0zM534.5 226.1h5.0v4.6h-5.0zM544.2 226.1h5.0v4.6h-5.0zM505.2 230.5h5.0v4.6h-5.0zM505.2 235.0h5.0v4.6h-5.0zM388.0 239.4h5.0v4.6h-5.0zM534.5 239.4h9.9v4.6h-9.9z"/>
<path fill="#a30000" d="M593.1 17.2h5.0v4.6h-5.0zM539.3 35.0h5.0v4.6h-5.0zM539.3 39.5h5.0v4.6h-5.0zM451.5 48.3h5.0v4.6h-5.0zM431.9 52.8h5.0v4.6h-5.0zM583.3 52.8h5.0v4.6h-5.0zM597.9 52.8h5.0v4.6h-5.0zM593.1 66.1h9.9v4.6h-9.9zM612.6 66.1h5.0v4.6h-5.0zM602.8 70.6h5.0v4.6h-5.0zM514.9 83.9h5.0v4.6h-5.0zM514.9 88.3h5.0v4.6h-5.0zM519.8 97.2h5.0v4.6h-5.0zM441.7 101.7h5.0v4.6h-5.0zM417.3 106.1h5.0v4.6h-5.0zM446.6 106.1h5.0v4.6h-5.0zM466.1 106.1h5.0v4.6h-5.0zM417.3 110.6h5.0v4.6h-5.0zM466.1 115.0h5.0v4.6h-5.0zM422.2 119.4h5.0v4.6h-5.0zM422.2 123.9h5.0v4.6h-5.0zM456.3 123.9h5.0v4.6h-5.0zM607.7 123.9h5.0v4.6h-5.0zM436.8 128.3h5.0v4.6h-5.0zM475.9 128.3h5.0v4.6h-5.0zM607.7 128.3h5.0v4.6h-5.0zM500.3 137.2h5.0v4.6h-5.0zM539.3 137.2h5.0v4.6h-5.0zM544.2 141.7h5.0v4.6h-5.0zM534.5 146.1h5.0v4.6h-5.0zM495.4 150.5h5.0v4.6h-5.0zM539.3 163.9h5.0v4.6h-5.0zM505.2 168.3h5.0v4.6h-5.0zM510.1 172.8h5.0v4.6h-5.0zM519.8 172.8h5.0v4.6h-5.0zM451.5 177.2h5.0v4.6h-5.0zM607.7 181.6h5.0v4.6h-5.0zM617.5 190.5h5.0v4.6h-5.0zM607.7 195.0h14.8v4.6h-14.8zM519.8 199.4h5.0v4.6h-5.0zM612.6 203.9h5.0v4.6h-5.0zM510.1 208.3h5.0v4.6h-5.0zM524.7 208.3h5.0v4.6h-5.0zM514.9 212.7h5.0v4.6h-5.0zM529.6 221.6h5.0v4.6h-5.0zM539.3 221.6h5.0v4.6h-5.0zM388.0 230.5h5.0v4.6h-5.0zM544.2 230.5h5.0v4.6h-5.0zM510.1 235.0h5.0v4.6h-5.0zM544.2 235.0h5.0v4.6h-5.0zM529.6 239.4h5.0v4.6h-5.0z"/>
<path fill="#c50000" d="M593.1 12.8h5.0v4.6h-5.0zM607.7 12.8h5.0v4.6h-5.0zM597.9 17.2h5.0v4.6h-5.0zM607.7 17.2h5.0v4.6h-5.0zM602.8 26.1h5.0v4.6h-5.0zM510.1 35.0h5.0v4.6h-5.0zM534.5 35.0h5.0v4.6h-5.0zM510.1 39.5h9.9v4.6h-9.9zM529.6 39.5h5.0v4.6h-5.0zM456.3 52.8h5.0v4.6h-5.0zM441.7 57.2h5.0v4.6h-5.0zM451.5 57.2h9.9v4.6h-9.9zM597.9 57.2h5.0v4.6h-5.0zM593.1 61.7h5.0v4.6h-5.0zM436.8 66.1h5.0v4.6h-5.0zM519.8 79.4h9.9v4.6h-9.9zM519.8 83.9h5.0v4.6h-5.0zM514.9 92.8h5.0v4.6h-5.0zM422.2 97.2h9.9v4.6h-9.9zM422.2 101.7h9.9v4.6h-9.9zM422.2 106.1h5.0v4.6h-5.0zM451.5 106.1h5.0v4.6h-5.0zM422.2 110.6h5.0v4.6h-5.0zM466.1 110.6h5.0v4.6h-5.0zM422.2 115.0h5.0v4.6h-5.0zM607.7 115.0h5.0v4.6h-5.0zM427.0 119.4h5.0v4.6h-5.0zM461.2 119.4h5.0v4.6h-5.0zM607.7 119.4h5.0v4.6h-5.0zM451.5 123.9h5.0v4.6h-5.0zM441.7 128.3h5.0v4.6h-5.0zM510.1 132.8h9.9v4.6h-9.9zM505.2 137.2h5.0v4.6h-5.0zM524.7 137.2h5.0v4.6h-5.0zM500.3 141.7h5.0v4.6h-5.0zM529.6 141.7h5.0v4.6h-5.0zM544.2 150.5h5.0v4.6h-5.0zM500.3 159.4h9.9v4.6h-9.9zM539.3 159.4h5.0v4.6h-5.0zM505.2 163.9h5.0v4.6h-5.0zM519.8 168.3h5.0v4.6h-5.0zM451.5 172.8h5.0v4.6h-5.0zM514.9 172.8h5.0v4.6h-5.0zM529.6 177.2h9.9v4.6h-9.9zM456.3 181.6h5.0v4.6h-5.0zM441.7 186.1h5.0v4.6h-5.0zM607.7 186.1h5.0v4.6h-5.0zM607.7 190.5h5.0v4.6h-5.0zM612.6 199.4h5.0v4.6h-5.0zM510.1 212.7h5.0v4.6h-5.0zM510.1 217.2h5.0v4.6h-5.0zM510.1 221.6h5.0v4.6h-5.0zM510.1 226.1h5.0v4.6h-5.0zM529.6 226.1h5.0v4.6h-5.0zM539.3 226.1h5.0v4.6h-5.0zM510.1 230.5h5.0v4.6h-5.0zM388.0 235.0h5.0v4.6h-5.0zM539.3 235.0h5.0v4.6h-5.0zM514.9 239.4h5.0v4.6h-5.0z"/>
<path fill="#e40000" d="M597.9 12.8h5.0v4.6h-5.0zM602.8 21.7h5.0v4.6h-5.0zM514.9 35.0h9.9v4.6h-9.9zM529.6 35.0h5.0v4.6h-5.0zM519.8 39.5h9.9v4.6h-9.9zM519.8 43.9h5.0v4.6h-5.0zM441.7 48.3h9.9v4.6h-9.9zM441.7 52.8h5.0v4.6h-5.0zM451.5 52.8h5.0v4.6h-5.0zM436.8 57.2h5.0v4.6h-5.0zM436.8 61.7h5.0v4.6h-5.0zM597.9 61.7h5.0v4.6h-5.0zM602.8 66.1h5.0v4.6h-5.0zM519.8 88.3h5.0v4.6h-5.0zM519.8 92.8h5.0v4.6h-5.0zM427.0 106.1h5.0v4.6h-5.0zM456.3 106.1h5.0v4.6h-5.0zM427.0 110.6h5.0v4.6h-5.0zM451.5 110.6h9.9v4.6h-9.9zM427.0 115.0h5.0v4.6h-5.0zM451.5 115.0h14.8v4.6h-14.8zM451.5 119.4h9.9v4.6h-9.9zM510.1 128.3h5.0v4.6h-5.0zM510.1 137.2h14.8v4.6h-14.8zM505.2 141.7h5.0v4.6h-5.0zM529.6 146.1h5.0v4.6h-5.0zM544.2 146.1h5.0v4.6h-5.0zM534.5 150.5h5.0v4.6h-5.0zM524.7 159.4h5.0v4.6h-5.0zM519.8 163.9h5.0v4.6h-5.0zM510.1 168.3h5.0v4.6h-5.0zM534.5 168.3h5.0v4.6h-5.0zM534.5 172.8h5.0v4.6h-5.0zM441.7 177.2h5.0v4.6h-5.0zM441.7 181.6h5.0v4.6h-5.0zM514.9 217.2h5.0v4.6h-5.0zM534.5 230.5h9.9v4.6h-9.9zM529.6 235.0h9.9v4.6h-9.9z"/>
<path fill="#ff0100" d="M524.7 35.0h5.0v4.6h-5.0zM431.9 57.2h5.0v4.6h-5.0zM431.9 61.7h5.0v4.6h-5.0zM524.7 83.9h5.0v4.6h-5.0zM436.8 97.2h5.0v4.6h-5.0zM461.2 106.1h5.0v4.6h-5.0zM461.2 110.6h5.0v4.6h-5.0zM431.9 119.4h5.0v4.6h-5.0zM436.8 123.9h5.0v4.6h-5.0zM446.6 123.9h5.0v4.6h-5.0zM505.2 146.1h5.0v4.6h-5.0zM505.2 155.0h5.0v4.6h-5.0zM534.5 163.9h5.0v4.6h-5.0zM519.8 203.9h5.0v4.6h-5.0zM519.8 208.3h5.0v4.6h-5.0zM524.7 212.7h5.0v4.6h-5.0zM524.7 217.2h5.0v4.6h-5.0zM529.6 230.5h5.0v4.6h-5.0z"/>
<path fill="#ff2c00" d="M602.8 12.8h5.0v4.6h-5.0zM431.9 97.2h5.0v4.6h-5.0zM431.9 101.7h9.9v4.6h-9.9zM441.7 106.1h5.0v4.6h-5.0zM446.6 110.6h5.0v4.6h-5.0zM431.9 115.0h5.0v4.6h-5.0zM441.7 123.9h5.0v4.6h-5.0zM505.2 150.5h5.0v4.6h-5.0zM524.7 150.5h5.0v4.6h-5.0zM500.3 155.0h5.0v4.6h-5.0zM524.7 155.0h5.0v4.6h-5.0zM539.3 155.0h5.0v4.6h-5.0zM510.1 159.4h5.0v4.6h-5.0zM519.8 159.4h5.0v4.6h-5.0zM534.5 159.4h5.0v4.6h-5.0zM510.1 163.9h5.0v4.6h-5.0zM514.9 168.3h5.0v4.6h-5.0zM529.6 168.3h5.0v4.6h-5.0zM519.8 212.7h5.0v4.6h-5.0zM519.8 217.2h5.0v4.6h-5.0zM524.7 221.6h5.0v4.6h-5.0zM524.7 226.1h5.0v4.6h-5.0zM514.9 235.0h5.0v4.6h-5.0zM524.7 235.0h5.0v4.6h-5.0z"/>
<path fill="#ff5500" d="M441.7 110.6h5.0v4.6h-5.0zM436.8 119.4h5.0v4.6h-5.0zM519.8 141.7h5.0v4.6h-5.0zM539.3 141.7h5.0v4.6h-5.0zM500.3 146.1h5.0v4.6h-5.0zM500.3 150.5h5.0v4.6h-5.0zM529.6 150.5h5.0v4.6h-5.0zM534.5 155.0h5.0v4.6h-5.0zM529.6 172.8h5.0v4.6h-5.0zM519.8 221.6h5.0v4.6h-5.0zM519.8 226.1h5.0v4.6h-5.0zM514.9 230.5h9.9v4.6h-9.9zM519.8 235.0h5.0v4.6h-5.0zM519.8 239.4h9.9v4.6h-9.9z"/>
<path fill="#ff7e00" d="M602.8 17.2h5.0v4.6h-5.0zM446.6 52.8h5.0v4.6h-5.0zM431.9 106.1h9.9v4.6h-9.9zM431.9 110.6h9.9v4.6h-9.9zM441.7 115.0h5.0v4.6h-5.0zM510.1 141.7h5.0v4.6h-5.0zM524.7 141.7h5.0v4.6h-5.0zM539.3 146.1h5.0v4.6h-5.0zM510.1 150.5h5.0v4.6h-5.0zM539.3 150.5h5.0v4.6h-5.0zM510.1 155.0h5.0v4.6h-5.0zM519.8 155.0h5.0v4.6h-5.0zM529.6 155.0h5.0v4.6h-5.0zM514.9 163.9h5.0v4.6h-5.0zM529.6 163.9h5.0v4.6h-5.0zM514.9 221.6h5.0v4.6h-5.0zM514.9 226.1h5.0v4.6h-5.0zM524.7 230.5h5.0v4.6h-5.0z"/>
<path fill="#ffa700" d="M446.6 115.0h5.0v4.6h-5.0zM441.7 119.4h9.9v4.6h-9.9zM427.0 123.9h5.0v4.6h-5.0zM510.1 146.1h5.0v4.6h-5.0zM524.7 146.1h5.0v4.6h-5.0zM529.6 159.4h5.0v4.6h-5.0z"/>
<path fill="#ffcf00" d="M436.8 115.0h5.0v4.6h-5.0zM514.9 159.4h5.0v4.6h-5.0z"/>
<path fill="#ffff00" d="M514.9 141.7h5.0v4.6h-5.0zM519.8 146.1h5.0v4.6h-5.0zM519.8 150.5h5.0v4.6h-5.0z"/>
<path fill="#ffff47" d="M514.9 146.1h5.0v4.6h-5.0z"/>
<path fill="#ffffff" d="M514.9 150.5h5.0v4.6h-5.0zM514.9 155.0h5.0v4.6h-5.0z"/></g></g>
<g clip-path="url(#c5)"><g fill="none" stroke="#4a96ea" stroke-width="2.2" stroke-linecap="round" stroke-dasharray="0.01 4.53"><circle cx="437.4" cy="113.0" r="27.8"/><circle cx="519.8" cy="80.0" r="27.8"/><circle cx="519.6" cy="154.2" r="27.8"/><circle cx="599.8" cy="117.4" r="27.8"/><circle cx="438.9" cy="186.0" r="27.8"/><circle cx="602.5" cy="193.7" r="27.8"/><circle cx="522.8" cy="229.0" r="27.8"/></g></g>
<rect x="383.1" y="12.8" width="253.9" height="231.0" fill="none" stroke="#262626" stroke-width="0.6"/>
<path d="M385.2 243.85v2.6M385.2 12.8v-2.6M433.2 243.85v2.6M433.2 12.8v-2.6M481.2 243.85v2.6M481.2 12.8v-2.6M529.2 243.85v2.6M529.2 12.8v-2.6M577.2 243.85v2.6M577.2 12.8v-2.6M625.2 243.85v2.6M625.2 12.8v-2.6M383.1 215.2h-2.6M637.0 215.2h2.6M383.1 171.4h-2.6M637.0 171.4h2.6M383.1 127.6h-2.6M637.0 127.6h2.6M383.1 83.8h-2.6M637.0 83.8h2.6M383.1 40.0h-2.6M637.0 40.0h2.6" stroke="#262626" stroke-width="0.7" fill="none"/>
<text x="385.2" y="258.3" text-anchor="middle">-5</text>
<text x="433.2" y="258.3" text-anchor="middle">0</text>
<text x="481.2" y="258.3" text-anchor="middle">5</text>
<text x="529.2" y="258.3" text-anchor="middle">10</text>
<text x="577.2" y="258.3" text-anchor="middle">15</text>
<text x="625.2" y="258.3" text-anchor="middle">20</text>
<text x="377.3" y="218.7" text-anchor="end">0</text>
<text x="377.3" y="174.9" text-anchor="end">5</text>
<text x="377.3" y="131.1" text-anchor="end">10</text>
<text x="377.3" y="87.3" text-anchor="end">15</text>
<text x="377.3" y="43.5" text-anchor="end">20</text>
<text class="L" x="454.4" y="272.6" textLength="110" lengthAdjust="spacingAndGlyphs">X stage position [<tspan font-style="italic">µ</tspan>m]</text>
<text class="L" transform="translate(361.0 183.7) rotate(-90)" textLength="109" lengthAdjust="spacingAndGlyphs">Y stage position [<tspan font-style="italic">µ</tspan>m]</text>
<text x="391.8" y="33" style="fill:#fff;font-size:14px">(b)</text>
<linearGradient id="g5" x1="0" y1="1" x2="0" y2="0"><stop offset="0.0000" stop-color="#000000"/><stop offset="0.3750" stop-color="#ff0000"/><stop offset="0.7500" stop-color="#ffff00"/><stop offset="1.0000" stop-color="#ffffff"/></linearGradient>
<rect x="641.3" y="12.8" width="8.3" height="231.0" fill="url(#g5)" stroke="#8a8a8a" stroke-width="0.5"/>
<text x="652.8" y="247.2">0</text>
<text x="652.8" y="199.2">0.5</text>
<text x="652.8" y="151.2">1</text>
<text x="652.8" y="103.2">1.5</text>
<text x="652.8" y="55.2">2</text>
<path d="M649.6 195.8h-2.2M649.6 147.8h-2.2M649.6 99.8h-2.2M649.6 51.8h-2.2" stroke="#262626" stroke-width="0.7" fill="none"/>
<text x="650.6" y="8.3">×10<tspan dy="-3.8" style="font-size:7.2px">5</tspan></text>
<text class="L" transform="translate(675.0 195.6) rotate(-90)" textLength="132.8" lengthAdjust="spacingAndGlyphs">Integrated intensity [counts/s]</text>
</svg>
</body></html>
